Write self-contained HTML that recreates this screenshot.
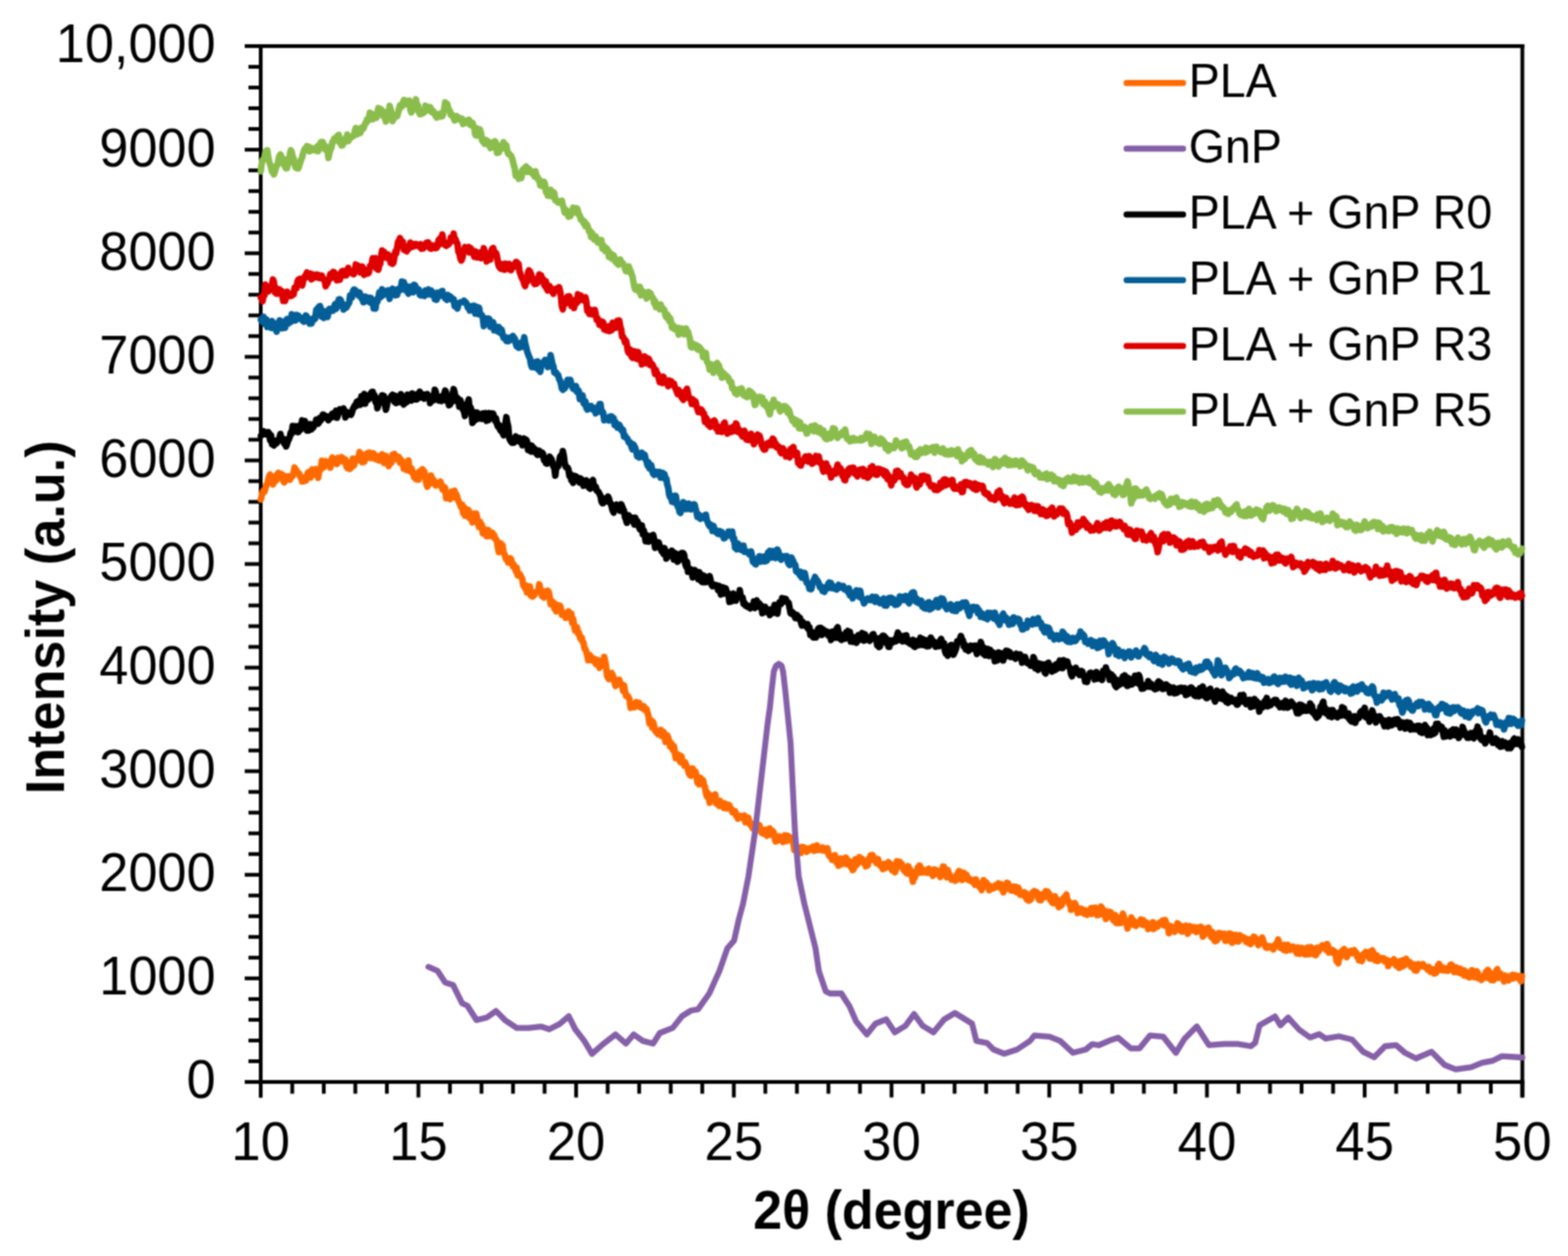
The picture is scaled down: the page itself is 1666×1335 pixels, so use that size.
<!DOCTYPE html>
<html><head><meta charset="utf-8"><style>
html,body{margin:0;padding:0;background:#fff;}
svg{display:block;}
</style></head><body>
<svg width="1666" height="1335" viewBox="0 0 1666 1335"><defs><filter id="bl" x="0" y="0" width="100%" height="100%" color-interpolation-filters="sRGB"><feConvolveMatrix order="3" kernelMatrix="1 2 1 2 4 2 1 2 1" divisor="16" edgeMode="duplicate"/></filter></defs><g filter="url(#bl)"><rect width="100%" height="100%" fill="#fff"/><g fill="#000"><rect x="275.0" y="47" width="4" height="1119.5"/><rect x="1615.5" y="47" width="4" height="1119.5"/><rect x="260" y="47.0" width="1359.5" height="4"/><rect x="260" y="1148.0" width="1359.5" height="4"/><rect x="260" y="1148.00" width="17.0" height="4"/><rect x="264" y="1125.98" width="13.0" height="4"/><rect x="264" y="1103.96" width="13.0" height="4"/><rect x="264" y="1081.94" width="13.0" height="4"/><rect x="264" y="1059.92" width="13.0" height="4"/><rect x="260" y="1037.90" width="17.0" height="4"/><rect x="264" y="1015.88" width="13.0" height="4"/><rect x="264" y="993.86" width="13.0" height="4"/><rect x="264" y="971.84" width="13.0" height="4"/><rect x="264" y="949.82" width="13.0" height="4"/><rect x="260" y="927.80" width="17.0" height="4"/><rect x="264" y="905.78" width="13.0" height="4"/><rect x="264" y="883.76" width="13.0" height="4"/><rect x="264" y="861.74" width="13.0" height="4"/><rect x="264" y="839.72" width="13.0" height="4"/><rect x="260" y="817.70" width="17.0" height="4"/><rect x="264" y="795.68" width="13.0" height="4"/><rect x="264" y="773.66" width="13.0" height="4"/><rect x="264" y="751.64" width="13.0" height="4"/><rect x="264" y="729.62" width="13.0" height="4"/><rect x="260" y="707.60" width="17.0" height="4"/><rect x="264" y="685.58" width="13.0" height="4"/><rect x="264" y="663.56" width="13.0" height="4"/><rect x="264" y="641.54" width="13.0" height="4"/><rect x="264" y="619.52" width="13.0" height="4"/><rect x="260" y="597.50" width="17.0" height="4"/><rect x="264" y="575.48" width="13.0" height="4"/><rect x="264" y="553.46" width="13.0" height="4"/><rect x="264" y="531.44" width="13.0" height="4"/><rect x="264" y="509.42" width="13.0" height="4"/><rect x="260" y="487.40" width="17.0" height="4"/><rect x="264" y="465.38" width="13.0" height="4"/><rect x="264" y="443.36" width="13.0" height="4"/><rect x="264" y="421.34" width="13.0" height="4"/><rect x="264" y="399.32" width="13.0" height="4"/><rect x="260" y="377.30" width="17.0" height="4"/><rect x="264" y="355.28" width="13.0" height="4"/><rect x="264" y="333.26" width="13.0" height="4"/><rect x="264" y="311.24" width="13.0" height="4"/><rect x="264" y="289.22" width="13.0" height="4"/><rect x="260" y="267.20" width="17.0" height="4"/><rect x="264" y="245.18" width="13.0" height="4"/><rect x="264" y="223.16" width="13.0" height="4"/><rect x="264" y="201.14" width="13.0" height="4"/><rect x="264" y="179.12" width="13.0" height="4"/><rect x="260" y="157.10" width="17.0" height="4"/><rect x="264" y="135.08" width="13.0" height="4"/><rect x="264" y="113.06" width="13.0" height="4"/><rect x="264" y="91.04" width="13.0" height="4"/><rect x="264" y="69.02" width="13.0" height="4"/><rect x="260" y="47.00" width="17.0" height="4"/><rect x="275.00" y="1150.0" width="4" height="16.5"/><rect x="308.51" y="1150.0" width="4" height="12.5"/><rect x="342.02" y="1150.0" width="4" height="12.5"/><rect x="375.54" y="1150.0" width="4" height="12.5"/><rect x="409.05" y="1150.0" width="4" height="12.5"/><rect x="442.56" y="1150.0" width="4" height="16.5"/><rect x="476.07" y="1150.0" width="4" height="12.5"/><rect x="509.59" y="1150.0" width="4" height="12.5"/><rect x="543.10" y="1150.0" width="4" height="12.5"/><rect x="576.61" y="1150.0" width="4" height="12.5"/><rect x="610.12" y="1150.0" width="4" height="16.5"/><rect x="643.64" y="1150.0" width="4" height="12.5"/><rect x="677.15" y="1150.0" width="4" height="12.5"/><rect x="710.66" y="1150.0" width="4" height="12.5"/><rect x="744.17" y="1150.0" width="4" height="12.5"/><rect x="777.69" y="1150.0" width="4" height="16.5"/><rect x="811.20" y="1150.0" width="4" height="12.5"/><rect x="844.71" y="1150.0" width="4" height="12.5"/><rect x="878.23" y="1150.0" width="4" height="12.5"/><rect x="911.74" y="1150.0" width="4" height="12.5"/><rect x="945.25" y="1150.0" width="4" height="16.5"/><rect x="978.76" y="1150.0" width="4" height="12.5"/><rect x="1012.27" y="1150.0" width="4" height="12.5"/><rect x="1045.79" y="1150.0" width="4" height="12.5"/><rect x="1079.30" y="1150.0" width="4" height="12.5"/><rect x="1112.81" y="1150.0" width="4" height="16.5"/><rect x="1146.33" y="1150.0" width="4" height="12.5"/><rect x="1179.84" y="1150.0" width="4" height="12.5"/><rect x="1213.35" y="1150.0" width="4" height="12.5"/><rect x="1246.86" y="1150.0" width="4" height="12.5"/><rect x="1280.38" y="1150.0" width="4" height="16.5"/><rect x="1313.89" y="1150.0" width="4" height="12.5"/><rect x="1347.40" y="1150.0" width="4" height="12.5"/><rect x="1380.91" y="1150.0" width="4" height="12.5"/><rect x="1414.42" y="1150.0" width="4" height="12.5"/><rect x="1447.94" y="1150.0" width="4" height="16.5"/><rect x="1481.45" y="1150.0" width="4" height="12.5"/><rect x="1514.96" y="1150.0" width="4" height="12.5"/><rect x="1548.47" y="1150.0" width="4" height="12.5"/><rect x="1581.99" y="1150.0" width="4" height="12.5"/><rect x="1615.50" y="1150.0" width="4" height="16.5"/></g><defs><clipPath id="c"><rect x="273.5" y="40" width="1347.5" height="1110"/></clipPath></defs><g clip-path="url(#c)" fill="none" stroke-linejoin="round" stroke-linecap="round"><path d="M277.0,531.0 L278.0,527.3 L279.0,523.2 L280.0,521.5 L281.0,522.6 L282.0,519.1 L283.0,515.2 L284.0,514.6 L285.0,509.9 L286.0,506.2 L287.0,504.5 L288.0,507.8 L289.0,511.4 L290.0,514.8 L291.0,512.8 L292.0,508.3 L293.0,511.3 L294.0,504.8 L295.0,507.5 L296.0,502.6 L297.0,505.5 L298.0,508.1 L299.0,503.8 L300.0,504.7 L301.0,511.2 L302.0,512.6 L303.0,511.0 L304.0,506.3 L305.0,508.6 L306.0,507.6 L307.0,506.5 L308.0,510.0 L309.0,506.5 L310.0,507.0 L311.0,505.9 L312.0,501.8 L313.0,496.9 L314.0,499.0 L315.0,500.0 L316.0,502.0 L317.0,503.8 L318.0,503.6 L319.0,506.7 L320.0,507.8 L321.0,511.7 L322.0,511.2 L323.0,511.5 L324.0,510.5 L325.0,510.6 L326.0,505.2 L327.0,502.7 L328.0,501.8 L329.0,506.0 L330.0,507.5 L331.0,503.5 L332.0,498.8 L333.0,504.4 L334.0,500.2 L335.0,501.3 L336.0,498.6 L337.0,504.4 L338.0,507.9 L339.0,502.0 L340.0,498.6 L341.0,498.6 L342.0,489.7 L343.0,493.4 L344.0,496.7 L345.0,493.5 L346.0,490.0 L347.0,493.7 L348.0,493.8 L349.0,491.0 L350.0,491.9 L351.0,497.0 L352.0,489.7 L353.0,486.4 L354.0,492.2 L355.0,489.6 L356.0,488.4 L357.0,490.1 L358.0,493.2 L359.0,486.8 L360.0,490.5 L361.0,490.1 L362.0,490.2 L363.0,485.8 L364.0,489.9 L365.0,487.2 L366.0,491.2 L367.0,488.6 L368.0,495.5 L369.0,497.4 L370.0,493.3 L371.0,492.0 L372.0,498.4 L373.0,495.4 L374.0,496.0 L375.0,487.4 L376.0,494.9 L377.0,491.4 L378.0,487.6 L379.0,487.2 L380.0,488.9 L381.0,487.7 L382.0,480.5 L383.0,485.8 L384.0,482.6 L385.0,491.3 L386.0,487.2 L387.0,490.9 L388.0,488.2 L389.0,486.2 L390.0,482.1 L391.0,484.7 L392.0,481.1 L393.0,481.3 L394.0,486.9 L395.0,482.9 L396.0,486.7 L397.0,481.9 L398.0,486.5 L399.0,487.9 L400.0,485.4 L401.0,484.9 L402.0,489.1 L403.0,489.5 L404.0,485.2 L405.0,485.2 L406.0,483.0 L407.0,488.6 L408.0,491.9 L409.0,485.9 L410.0,484.6 L411.0,491.6 L412.0,493.4 L413.0,495.4 L414.0,492.7 L415.0,488.6 L416.0,491.9 L417.0,483.5 L418.0,487.4 L419.0,482.5 L420.0,486.2 L421.0,487.8 L422.0,487.5 L423.0,485.5 L424.0,486.1 L425.0,491.7 L426.0,488.3 L427.0,491.9 L428.0,490.9 L429.0,498.2 L430.0,497.1 L431.0,497.7 L432.0,499.7 L433.0,499.6 L434.0,489.6 L435.0,498.6 L436.0,501.0 L437.0,497.7 L438.0,500.1 L439.0,503.1 L440.0,507.4 L441.0,503.5 L442.0,509.1 L443.0,508.2 L444.0,502.7 L445.0,509.9 L446.0,500.9 L447.0,501.3 L448.0,505.4 L449.0,498.8 L450.0,501.0 L451.0,501.5 L452.0,507.5 L453.0,513.9 L454.0,517.3 L455.0,508.1 L456.0,507.4 L457.0,514.0 L458.0,505.4 L459.0,509.2 L460.0,509.3 L461.0,510.6 L462.0,511.6 L463.0,516.0 L464.0,515.5 L465.0,513.5 L466.0,513.6 L467.0,513.2 L468.0,511.9 L469.0,515.5 L470.0,520.1 L471.0,519.1 L472.0,517.6 L473.0,518.5 L474.0,529.5 L475.0,527.3 L476.0,526.2 L477.0,529.8 L478.0,530.5 L479.0,528.6 L480.0,522.6 L481.0,523.7 L482.0,522.7 L483.0,521.6 L484.0,529.1 L485.0,525.7 L486.0,529.1 L487.0,531.9 L488.0,534.5 L489.0,536.6 L490.0,539.2 L491.0,536.3 L492.0,545.0 L493.0,539.0 L494.0,548.1 L495.0,548.0 L496.0,548.6 L497.0,541.6 L498.0,542.5 L499.0,550.5 L500.0,548.3 L501.0,548.4 L502.0,555.2 L503.0,545.9 L504.0,550.3 L505.0,549.1 L506.0,545.8 L507.0,550.8 L508.0,556.1 L509.0,560.1 L510.0,554.4 L511.0,560.5 L512.0,557.8 L513.0,566.9 L514.0,562.5 L515.0,562.5 L516.0,566.3 L517.0,570.0 L518.0,565.4 L519.0,563.5 L520.0,569.7 L521.0,569.6 L522.0,569.9 L523.0,566.2 L524.0,568.7 L525.0,568.5 L526.0,572.8 L527.0,572.9 L528.0,575.2 L529.0,582.1 L530.0,586.8 L531.0,582.7 L532.0,577.5 L533.0,582.0 L534.0,579.5 L535.0,587.8 L536.0,588.5 L537.0,592.7 L538.0,594.7 L539.0,594.0 L540.0,598.1 L541.0,598.0 L542.0,593.4 L543.0,594.3 L544.0,598.4 L545.0,602.0 L546.0,600.1 L547.0,603.7 L548.0,607.0 L549.0,603.3 L550.0,611.7 L551.0,611.8 L552.0,610.1 L553.0,611.5 L554.0,613.5 L555.0,615.9 L556.0,622.5 L557.0,622.8 L558.0,625.6 L559.0,622.4 L560.0,629.8 L561.0,624.6 L562.0,624.9 L563.0,623.4 L564.0,632.8 L565.0,629.1 L566.0,634.1 L567.0,632.9 L568.0,632.1 L569.0,629.4 L570.0,629.2 L571.0,628.9 L572.0,627.6 L573.0,621.1 L574.0,625.2 L575.0,627.7 L576.0,633.7 L577.0,633.7 L578.0,635.0 L579.0,633.8 L580.0,628.5 L581.0,632.3 L582.0,627.8 L583.0,629.4 L584.0,633.7 L585.0,642.2 L586.0,641.6 L587.0,639.5 L588.0,640.5 L589.0,646.8 L590.0,646.8 L591.0,649.8 L592.0,642.9 L593.0,644.8 L594.0,647.6 L595.0,643.9 L596.0,646.9 L597.0,653.5 L598.0,653.3 L599.0,651.8 L600.0,653.3 L601.0,656.7 L602.0,655.7 L603.0,650.8 L604.0,649.9 L605.0,656.4 L606.0,653.6 L607.0,652.2 L608.0,662.2 L609.0,657.9 L610.0,664.7 L611.0,670.0 L612.0,669.6 L613.0,666.5 L614.0,673.0 L615.0,672.3 L616.0,676.7 L617.0,679.4 L618.0,677.5 L619.0,682.1 L620.0,683.2 L621.0,689.3 L622.0,690.2 L623.0,692.8 L624.0,696.8 L625.0,701.7 L626.0,697.2 L627.0,696.7 L628.0,701.7 L629.0,702.0 L630.0,699.7 L631.0,700.3 L632.0,700.5 L633.0,705.8 L634.0,706.0 L635.0,705.4 L636.0,701.8 L637.0,709.9 L638.0,707.0 L639.0,703.0 L640.0,702.4 L641.0,705.3 L642.0,698.3 L643.0,703.2 L644.0,708.7 L645.0,717.9 L646.0,720.5 L647.0,721.7 L648.0,717.0 L649.0,716.4 L650.0,715.5 L651.0,717.7 L652.0,720.4 L653.0,725.4 L654.0,729.2 L655.0,724.0 L656.0,725.9 L657.0,722.8 L658.0,722.6 L659.0,725.8 L660.0,727.9 L661.0,728.9 L662.0,734.1 L663.0,728.4 L664.0,734.4 L665.0,739.4 L666.0,738.7 L667.0,740.3 L668.0,741.3 L669.0,744.5 L670.0,752.2 L671.0,751.7 L672.0,749.6 L673.0,751.5 L674.0,751.7 L675.0,750.7 L676.0,746.3 L677.0,746.9 L678.0,749.7 L679.0,747.0 L680.0,751.6 L681.0,750.7 L682.0,751.2 L683.0,753.0 L684.0,750.7 L685.0,753.7 L686.0,755.0 L687.0,753.8 L688.0,757.7 L689.0,760.9 L690.0,768.8 L691.0,767.4 L692.0,765.7 L693.0,773.2 L694.0,767.5 L695.0,772.0 L696.0,776.2 L697.0,778.0 L698.0,777.8 L699.0,780.3 L700.0,777.0 L701.0,778.5 L702.0,775.8 L703.0,782.1 L704.0,781.7 L705.0,778.0 L706.0,780.3 L707.0,788.6 L708.0,782.6 L709.0,781.6 L710.0,784.4 L711.0,787.8 L712.0,793.3 L713.0,789.6 L714.0,793.9 L715.0,797.3 L716.0,792.9 L717.0,800.0 L718.0,805.8 L719.0,802.5 L720.0,803.1 L721.0,802.1 L722.0,808.2 L723.0,810.0 L724.0,803.8 L725.0,809.4 L726.0,809.8 L727.0,813.7 L728.0,810.4 L729.0,813.4 L730.0,815.2 L731.0,818.2 L732.0,822.1 L733.0,823.9 L734.0,824.4 L735.0,822.7 L736.0,816.8 L737.0,818.9 L738.0,820.8 L739.0,820.3 L740.0,825.2 L741.0,831.7 L742.0,827.5 L743.0,833.7 L744.0,826.6 L745.0,828.6 L746.0,832.9 L747.0,829.3 L748.0,834.9 L749.0,836.3 L750.0,842.9 L751.0,846.4 L752.0,842.7 L753.0,847.1 L754.0,853.2 L755.0,849.4 L756.0,845.8 L757.0,850.0 L758.0,845.6 L759.0,847.8 L760.0,844.4 L761.0,854.0 L762.0,851.7 L763.0,855.1 L764.0,856.5 L765.0,851.3 L766.0,854.7 L767.0,854.3 L768.0,857.6 L769.0,858.8 L770.0,853.9 L771.0,854.9 L772.0,859.3 L773.0,857.3 L774.0,855.4 L775.0,856.0 L776.0,859.3 L777.0,859.8 L778.0,863.1 L779.0,861.4 L780.0,864.2 L781.0,862.2 L782.0,866.7 L783.0,866.1 L784.0,870.3 L785.0,867.0 L786.0,867.1 L787.0,868.3 L788.0,869.1 L789.0,867.6 L790.0,869.6 L791.0,866.8 L792.0,873.9 L793.0,873.2 L794.0,872.7 L795.0,869.2 L796.0,872.3 L797.0,876.3 L798.0,876.7 L799.0,879.0 L800.0,880.5 L801.0,876.1 L802.0,878.6 L803.0,877.5 L804.0,876.0 L805.0,876.5 L806.0,877.9 L807.0,877.4 L808.0,882.5 L809.0,885.0 L810.0,884.8 L811.0,886.0 L812.0,882.1 L813.0,881.9 L814.0,885.3 L815.0,888.3 L816.0,884.5 L817.0,881.0 L818.0,880.7 L819.0,883.8 L820.0,887.2 L821.0,883.1 L822.0,885.0 L823.0,890.4 L824.0,894.4 L825.0,890.0 L826.0,893.7 L827.0,893.1 L828.0,888.9 L829.0,891.7 L830.0,890.2 L831.0,890.8 L832.0,894.9 L833.0,893.7 L834.0,887.9 L835.0,888.2 L836.0,893.9 L837.0,888.4 L838.0,890.2 L839.0,891.0 L840.0,890.2 L841.0,891.2 L842.0,893.4 L843.0,897.2 L844.0,903.4 L845.0,902.4 L846.0,900.4 L847.0,904.5 L848.0,901.2 L849.0,903.6 L850.0,902.1 L851.0,906.5 L852.0,900.2 L853.0,903.1 L854.0,900.5 L855.0,903.2 L856.0,902.1 L857.0,905.3 L858.0,902.1 L859.0,903.9 L860.0,902.8 L861.0,901.3 L862.0,901.0 L863.0,901.1 L864.0,899.9 L865.0,904.4 L866.0,902.1 L867.0,902.2 L868.0,898.6 L869.0,903.5 L870.0,901.3 L871.0,901.4 L872.0,903.0 L873.0,903.7 L874.0,900.8 L875.0,901.5 L876.0,904.3 L877.0,904.3 L878.0,904.2 L879.0,901.6 L880.0,906.2 L881.0,909.8 L882.0,910.0 L883.0,910.6 L884.0,913.8 L885.0,913.3 L886.0,913.5 L887.0,909.0 L888.0,912.7 L889.0,917.3 L890.0,913.9 L891.0,920.1 L892.0,912.8 L893.0,918.8 L894.0,912.5 L895.0,918.4 L896.0,917.9 L897.0,912.7 L898.0,917.0 L899.0,911.6 L900.0,918.6 L901.0,915.5 L902.0,917.1 L903.0,915.6 L904.0,921.3 L905.0,919.8 L906.0,924.7 L907.0,923.9 L908.0,920.3 L909.0,913.2 L910.0,919.5 L911.0,918.1 L912.0,914.6 L913.0,911.1 L914.0,911.6 L915.0,915.5 L916.0,912.8 L917.0,916.6 L918.0,916.1 L919.0,915.4 L920.0,920.8 L921.0,917.0 L922.0,919.7 L923.0,913.0 L924.0,914.8 L925.0,909.2 L926.0,913.4 L927.0,908.8 L928.0,910.7 L929.0,912.9 L930.0,914.7 L931.0,917.1 L932.0,914.9 L933.0,913.3 L934.0,918.7 L935.0,919.7 L936.0,919.0 L937.0,921.9 L938.0,923.7 L939.0,918.5 L940.0,923.2 L941.0,918.0 L942.0,920.6 L943.0,918.5 L944.0,916.5 L945.0,921.7 L946.0,922.6 L947.0,918.7 L948.0,925.0 L949.0,921.7 L950.0,925.8 L951.0,927.1 L952.0,923.4 L953.0,915.5 L954.0,917.1 L955.0,916.5 L956.0,916.1 L957.0,920.9 L958.0,918.0 L959.0,922.6 L960.0,924.4 L961.0,925.8 L962.0,924.1 L963.0,928.0 L964.0,928.4 L965.0,920.6 L966.0,923.2 L967.0,924.6 L968.0,926.0 L969.0,932.0 L970.0,937.1 L971.0,927.0 L972.0,932.9 L973.0,926.7 L974.0,928.9 L975.0,922.3 L976.0,926.2 L977.0,920.0 L978.0,921.2 L979.0,927.4 L980.0,925.3 L981.0,927.1 L982.0,925.0 L983.0,925.0 L984.0,925.2 L985.0,927.7 L986.0,927.6 L987.0,923.4 L988.0,925.9 L989.0,927.1 L990.0,927.7 L991.0,930.8 L992.0,930.1 L993.0,924.1 L994.0,926.1 L995.0,925.0 L996.0,925.5 L997.0,927.1 L998.0,929.3 L999.0,932.2 L1000.0,929.2 L1001.0,927.9 L1002.0,921.1 L1003.0,921.3 L1004.0,929.8 L1005.0,929.9 L1006.0,932.4 L1007.0,924.6 L1008.0,928.2 L1009.0,930.6 L1010.0,931.8 L1011.0,935.0 L1012.0,933.3 L1013.0,933.6 L1014.0,931.9 L1015.0,936.2 L1016.0,935.2 L1017.0,931.9 L1018.0,927.2 L1019.0,925.8 L1020.0,926.3 L1021.0,932.4 L1022.0,935.2 L1023.0,935.0 L1024.0,927.8 L1025.0,931.0 L1026.0,930.0 L1027.0,929.8 L1028.0,933.5 L1029.0,935.3 L1030.0,934.0 L1031.0,935.2 L1032.0,936.4 L1033.0,937.5 L1034.0,937.8 L1035.0,935.5 L1036.0,940.4 L1037.0,934.8 L1038.0,939.6 L1039.0,938.6 L1040.0,941.2 L1041.0,943.1 L1042.0,942.8 L1043.0,946.1 L1044.0,938.5 L1045.0,935.5 L1046.0,942.3 L1047.0,937.5 L1048.0,937.9 L1049.0,939.8 L1050.0,942.1 L1051.0,946.3 L1052.0,944.6 L1053.0,942.0 L1054.0,944.6 L1055.0,943.7 L1056.0,944.1 L1057.0,943.3 L1058.0,941.0 L1059.0,942.2 L1060.0,941.4 L1061.0,938.9 L1062.0,943.5 L1063.0,940.7 L1064.0,940.0 L1065.0,944.8 L1066.0,948.4 L1067.0,946.4 L1068.0,943.7 L1069.0,943.2 L1070.0,938.4 L1071.0,938.8 L1072.0,941.8 L1073.0,944.7 L1074.0,946.2 L1075.0,946.7 L1076.0,943.3 L1077.0,942.4 L1078.0,942.8 L1079.0,942.6 L1080.0,948.2 L1081.0,946.2 L1082.0,943.6 L1083.0,946.3 L1084.0,951.0 L1085.0,949.2 L1086.0,949.7 L1087.0,949.2 L1088.0,948.5 L1089.0,953.1 L1090.0,949.3 L1091.0,956.1 L1092.0,950.6 L1093.0,957.3 L1094.0,954.9 L1095.0,956.2 L1096.0,954.2 L1097.0,948.9 L1098.0,951.2 L1099.0,947.1 L1100.0,948.5 L1101.0,949.7 L1102.0,948.8 L1103.0,952.8 L1104.0,956.4 L1105.0,951.8 L1106.0,956.9 L1107.0,950.8 L1108.0,954.3 L1109.0,950.4 L1110.0,951.3 L1111.0,947.2 L1112.0,953.3 L1113.0,947.6 L1114.0,949.6 L1115.0,950.2 L1116.0,956.8 L1117.0,957.0 L1118.0,959.3 L1119.0,959.9 L1120.0,955.0 L1121.0,952.7 L1122.0,958.8 L1123.0,955.8 L1124.0,961.5 L1125.0,964.2 L1126.0,962.7 L1127.0,957.0 L1128.0,962.3 L1129.0,959.2 L1130.0,954.7 L1131.0,953.4 L1132.0,955.0 L1133.0,950.7 L1134.0,956.5 L1135.0,957.4 L1136.0,960.9 L1137.0,959.7 L1138.0,967.0 L1139.0,960.4 L1140.0,965.7 L1141.0,962.0 L1142.0,960.0 L1143.0,962.3 L1144.0,964.3 L1145.0,970.4 L1146.0,968.3 L1147.0,968.7 L1148.0,969.3 L1149.0,965.8 L1150.0,968.5 L1151.0,968.9 L1152.0,971.2 L1153.0,967.6 L1154.0,970.8 L1155.0,972.2 L1156.0,970.9 L1157.0,968.3 L1158.0,967.5 L1159.0,965.6 L1160.0,971.5 L1161.0,965.0 L1162.0,968.3 L1163.0,967.9 L1164.0,964.9 L1165.0,966.9 L1166.0,972.8 L1167.0,969.6 L1168.0,972.2 L1169.0,971.4 L1170.0,963.6 L1171.0,970.3 L1172.0,966.4 L1173.0,971.2 L1174.0,973.0 L1175.0,976.8 L1176.0,973.0 L1177.0,968.9 L1178.0,971.0 L1179.0,971.7 L1180.0,969.4 L1181.0,971.3 L1182.0,976.3 L1183.0,978.3 L1184.0,977.6 L1185.0,972.6 L1186.0,980.9 L1187.0,977.5 L1188.0,981.1 L1189.0,975.7 L1190.0,975.7 L1191.0,981.0 L1192.0,974.5 L1193.0,971.2 L1194.0,973.9 L1195.0,980.3 L1196.0,981.2 L1197.0,979.6 L1198.0,986.9 L1199.0,983.6 L1200.0,982.3 L1201.0,978.9 L1202.0,975.1 L1203.0,980.5 L1204.0,977.9 L1205.0,983.0 L1206.0,980.8 L1207.0,984.1 L1208.0,980.6 L1209.0,980.3 L1210.0,981.9 L1211.0,979.2 L1212.0,977.4 L1213.0,980.9 L1214.0,982.9 L1215.0,978.1 L1216.0,983.3 L1217.0,982.8 L1218.0,982.8 L1219.0,981.0 L1220.0,987.4 L1221.0,986.9 L1222.0,986.4 L1223.0,982.0 L1224.0,985.5 L1225.0,980.2 L1226.0,987.4 L1227.0,982.5 L1228.0,982.6 L1229.0,984.1 L1230.0,984.7 L1231.0,982.9 L1232.0,980.7 L1233.0,980.6 L1234.0,981.1 L1235.0,978.7 L1236.0,980.1 L1237.0,983.8 L1238.0,977.9 L1239.0,980.8 L1240.0,983.8 L1241.0,984.5 L1242.0,991.9 L1243.0,985.1 L1244.0,984.4 L1245.0,985.8 L1246.0,987.0 L1247.0,989.2 L1248.0,990.2 L1249.0,988.4 L1250.0,985.9 L1251.0,981.4 L1252.0,982.0 L1253.0,987.0 L1254.0,988.7 L1255.0,984.1 L1256.0,990.2 L1257.0,986.7 L1258.0,987.0 L1259.0,988.0 L1260.0,983.9 L1261.0,985.2 L1262.0,992.4 L1263.0,986.3 L1264.0,984.4 L1265.0,985.8 L1266.0,989.2 L1267.0,985.6 L1268.0,985.4 L1269.0,986.7 L1270.0,989.2 L1271.0,990.5 L1272.0,985.8 L1273.0,989.8 L1274.0,989.8 L1275.0,990.0 L1276.0,985.1 L1277.0,988.8 L1278.0,995.5 L1279.0,994.3 L1280.0,987.3 L1281.0,989.3 L1282.0,987.9 L1283.0,991.7 L1284.0,986.0 L1285.0,988.9 L1286.0,993.1 L1287.0,996.0 L1288.0,990.4 L1289.0,996.9 L1290.0,999.2 L1291.0,1000.3 L1292.0,995.6 L1293.0,999.6 L1294.0,992.2 L1295.0,991.7 L1296.0,992.0 L1297.0,996.1 L1298.0,992.4 L1299.0,993.9 L1300.0,993.6 L1301.0,992.7 L1302.0,1000.1 L1303.0,994.4 L1304.0,999.4 L1305.0,996.9 L1306.0,992.3 L1307.0,999.4 L1308.0,992.6 L1309.0,1001.9 L1310.0,994.9 L1311.0,996.4 L1312.0,998.6 L1313.0,993.8 L1314.0,1000.5 L1315.0,994.6 L1316.0,1000.8 L1317.0,994.0 L1318.0,998.1 L1319.0,995.4 L1320.0,996.1 L1321.0,997.8 L1322.0,996.8 L1323.0,997.9 L1324.0,1001.0 L1325.0,998.1 L1326.0,998.9 L1327.0,1002.6 L1328.0,998.6 L1329.0,1003.4 L1330.0,998.3 L1331.0,999.2 L1332.0,995.7 L1333.0,996.1 L1334.0,997.2 L1335.0,1001.7 L1336.0,1002.1 L1337.0,1004.5 L1338.0,1000.1 L1339.0,1002.3 L1340.0,999.0 L1341.0,996.6 L1342.0,999.4 L1343.0,1002.9 L1344.0,1004.9 L1345.0,1007.2 L1346.0,1007.5 L1347.0,1005.5 L1348.0,1005.8 L1349.0,1005.7 L1350.0,1005.9 L1351.0,1007.6 L1352.0,1006.7 L1353.0,1009.1 L1354.0,1005.6 L1355.0,1003.9 L1356.0,1005.1 L1357.0,1001.9 L1358.0,998.7 L1359.0,1001.8 L1360.0,1006.7 L1361.0,1007.8 L1362.0,1007.6 L1363.0,1007.6 L1364.0,1009.6 L1365.0,1004.4 L1366.0,1007.4 L1367.0,1010.5 L1368.0,1004.3 L1369.0,1005.5 L1370.0,1007.1 L1371.0,1009.5 L1372.0,1008.0 L1373.0,1007.9 L1374.0,1006.2 L1375.0,1007.6 L1376.0,1010.3 L1377.0,1008.8 L1378.0,1013.4 L1379.0,1007.0 L1380.0,1013.5 L1381.0,1013.7 L1382.0,1010.1 L1383.0,1007.6 L1384.0,1010.3 L1385.0,1012.4 L1386.0,1014.1 L1387.0,1014.5 L1388.0,1008.5 L1389.0,1007.2 L1390.0,1007.1 L1391.0,1014.3 L1392.0,1011.2 L1393.0,1006.7 L1394.0,1011.3 L1395.0,1014.0 L1396.0,1011.4 L1397.0,1008.6 L1398.0,1015.3 L1399.0,1012.3 L1400.0,1007.2 L1401.0,1011.4 L1402.0,1008.5 L1403.0,1008.4 L1404.0,1006.0 L1405.0,1004.8 L1406.0,1005.2 L1407.0,1006.2 L1408.0,1005.7 L1409.0,1009.5 L1410.0,1003.5 L1411.0,1005.3 L1412.0,1012.4 L1413.0,1010.5 L1414.0,1011.4 L1415.0,1012.3 L1416.0,1009.8 L1417.0,1011.9 L1418.0,1011.1 L1419.0,1012.4 L1420.0,1021.3 L1421.0,1021.0 L1422.0,1023.9 L1423.0,1014.3 L1424.0,1017.6 L1425.0,1011.6 L1426.0,1010.6 L1427.0,1013.2 L1428.0,1008.7 L1429.0,1012.6 L1430.0,1015.1 L1431.0,1017.3 L1432.0,1013.6 L1433.0,1011.4 L1434.0,1013.2 L1435.0,1013.1 L1436.0,1010.6 L1437.0,1013.1 L1438.0,1011.3 L1439.0,1010.0 L1440.0,1013.5 L1441.0,1012.6 L1442.0,1017.0 L1443.0,1017.3 L1444.0,1020.7 L1445.0,1019.8 L1446.0,1020.1 L1447.0,1021.5 L1448.0,1014.7 L1449.0,1014.9 L1450.0,1013.1 L1451.0,1012.0 L1452.0,1015.5 L1453.0,1015.5 L1454.0,1012.3 L1455.0,1018.7 L1456.0,1019.0 L1457.0,1011.0 L1458.0,1010.2 L1459.0,1011.8 L1460.0,1018.6 L1461.0,1020.7 L1462.0,1015.2 L1463.0,1015.8 L1464.0,1021.4 L1465.0,1020.8 L1466.0,1019.3 L1467.0,1018.5 L1468.0,1019.5 L1469.0,1018.6 L1470.0,1018.6 L1471.0,1021.6 L1472.0,1019.8 L1473.0,1020.4 L1474.0,1020.9 L1475.0,1026.8 L1476.0,1021.4 L1477.0,1024.2 L1478.0,1023.5 L1479.0,1022.4 L1480.0,1022.9 L1481.0,1019.6 L1482.0,1020.9 L1483.0,1025.3 L1484.0,1026.9 L1485.0,1022.9 L1486.0,1023.1 L1487.0,1028.8 L1488.0,1021.4 L1489.0,1026.8 L1490.0,1027.0 L1491.0,1020.6 L1492.0,1026.2 L1493.0,1020.3 L1494.0,1019.2 L1495.0,1021.3 L1496.0,1021.8 L1497.0,1023.9 L1498.0,1022.7 L1499.0,1027.3 L1500.0,1027.9 L1501.0,1024.9 L1502.0,1027.2 L1503.0,1031.2 L1504.0,1025.4 L1505.0,1031.7 L1506.0,1029.7 L1507.0,1024.8 L1508.0,1025.5 L1509.0,1025.2 L1510.0,1026.7 L1511.0,1026.0 L1512.0,1025.0 L1513.0,1027.6 L1514.0,1027.9 L1515.0,1028.2 L1516.0,1028.1 L1517.0,1030.6 L1518.0,1027.8 L1519.0,1029.1 L1520.0,1032.9 L1521.0,1030.5 L1522.0,1032.6 L1523.0,1030.4 L1524.0,1034.6 L1525.0,1034.3 L1526.0,1034.0 L1527.0,1030.6 L1528.0,1025.8 L1529.0,1024.7 L1530.0,1030.1 L1531.0,1030.8 L1532.0,1027.8 L1533.0,1031.1 L1534.0,1031.4 L1535.0,1031.2 L1536.0,1029.4 L1537.0,1031.4 L1538.0,1031.9 L1539.0,1031.1 L1540.0,1030.5 L1541.0,1025.5 L1542.0,1025.2 L1543.0,1026.2 L1544.0,1030.1 L1545.0,1033.2 L1546.0,1032.4 L1547.0,1028.2 L1548.0,1031.4 L1549.0,1033.4 L1550.0,1029.8 L1551.0,1029.6 L1552.0,1034.4 L1553.0,1031.5 L1554.0,1035.2 L1555.0,1031.2 L1556.0,1037.0 L1557.0,1032.5 L1558.0,1033.5 L1559.0,1034.9 L1560.0,1038.1 L1561.0,1038.8 L1562.0,1038.5 L1563.0,1036.9 L1564.0,1031.3 L1565.0,1032.0 L1566.0,1034.6 L1567.0,1038.7 L1568.0,1036.8 L1569.0,1032.4 L1570.0,1033.9 L1571.0,1039.8 L1572.0,1036.8 L1573.0,1040.7 L1574.0,1041.5 L1575.0,1040.4 L1576.0,1038.7 L1577.0,1038.5 L1578.0,1035.4 L1579.0,1032.8 L1580.0,1039.2 L1581.0,1031.0 L1582.0,1032.6 L1583.0,1037.1 L1584.0,1041.6 L1585.0,1036.9 L1586.0,1038.8 L1587.0,1041.8 L1588.0,1035.3 L1589.0,1033.8 L1590.0,1031.3 L1591.0,1030.3 L1592.0,1039.4 L1593.0,1038.9 L1594.0,1034.6 L1595.0,1036.0 L1596.0,1036.8 L1597.0,1038.8 L1598.0,1043.3 L1599.0,1036.9 L1600.0,1037.5 L1601.0,1038.0 L1602.0,1039.6 L1603.0,1042.0 L1604.0,1038.1 L1605.0,1040.3 L1606.0,1037.0 L1607.0,1036.1 L1608.0,1039.9 L1609.0,1037.6 L1610.0,1036.8 L1611.0,1038.1 L1612.0,1037.8 L1613.0,1039.5 L1614.0,1037.5 L1615.0,1038.5 L1616.0,1043.1 L1617.0,1037.7" stroke="#ff6a00" stroke-width="7.0"/><path d="M455.2,1027.7 L464.8,1031.8 L473.0,1044.3 L481.4,1047.0 L491.0,1066.4 L496.6,1069.0 L506.3,1084.3 L517.3,1081.5 L527.0,1074.6 L536.6,1084.3 L549.0,1092.6 L561.5,1092.6 L575.3,1091.2 L583.6,1094.0 L594.6,1088.4 L604.3,1080.2 L611.2,1094.0 L620.8,1106.4 L629.0,1120.2 L641.5,1109.2 L654.0,1099.5 L665.0,1109.2 L673.3,1099.5 L683.0,1106.4 L694.0,1109.2 L701.0,1098.0 L714.7,1092.6 L724.8,1080.0 L734.4,1074.0 L741.6,1072.8 L753.6,1056.0 L764.4,1032.0 L772.8,1008.0 L780.0,999.6 L784.8,978.0 L789.6,960.0 L795.2,931.5 L802.2,884.3 L807.7,837.2 L813.2,790.0 L815.5,770.0 L818.1,751.2 L820.0,732.5 L822.2,713.7 L824.6,707.5 L827.5,705.5 L830.4,707.5 L832.0,713.7 L834.2,732.5 L836.1,751.2 L838.0,770.0 L840.0,790.0 L842.3,837.2 L844.7,884.3 L848.6,931.5 L854.5,960.0 L860.5,984.0 L866.5,1008.0 L870.0,1032.0 L877.3,1053.6 L882.0,1056.0 L894.0,1056.0 L897.7,1062.0 L902.8,1069.9 L909.7,1085.8 L921.0,1099.5 L930.2,1088.0 L941.6,1083.5 L950.7,1097.2 L962.0,1090.4 L971.2,1077.8 L980.4,1090.4 L991.8,1097.2 L1003.2,1083.5 L1014.6,1076.7 L1032.8,1088.0 L1037.4,1106.4 L1048.8,1108.6 L1055.6,1115.5 L1067.0,1120.0 L1080.7,1115.5 L1094.4,1106.4 L1099.0,1100.6 L1115.0,1101.8 L1126.4,1106.4 L1140.0,1119.0 L1153.7,1115.5 L1160.6,1109.8 L1167.4,1111.0 L1181.0,1105.2 L1188.0,1103.0 L1201.6,1114.3 L1210.8,1114.3 L1222.0,1100.6 L1235.8,1101.8 L1249.4,1119.0 L1258.7,1103.9 L1271.6,1091.0 L1284.5,1110.9 L1300.9,1109.7 L1315.0,1109.7 L1329.0,1112.0 L1333.6,1108.5 L1338.3,1089.8 L1354.7,1080.4 L1360.5,1089.8 L1368.7,1081.6 L1380.4,1094.5 L1392.0,1102.7 L1401.5,1099.2 L1408.5,1103.9 L1422.6,1101.5 L1436.6,1105.0 L1448.3,1117.9 L1460.0,1123.8 L1471.7,1112.0 L1483.4,1110.9 L1492.8,1119.0 L1504.5,1125.0 L1521.0,1117.9 L1535.0,1132.0 L1546.6,1136.6 L1563.0,1134.3 L1574.7,1129.6 L1586.4,1127.3 L1595.8,1122.6 L1617.5,1124.0" stroke="#8560a8" stroke-width="6.3"/><path d="M277.0,463.5 L278.0,462.1 L279.0,461.9 L280.0,458.3 L281.0,461.4 L282.0,460.2 L283.0,460.9 L284.0,462.1 L285.0,459.4 L286.0,460.7 L287.0,467.8 L288.0,462.6 L289.0,472.1 L290.0,472.6 L291.0,473.5 L292.0,468.4 L293.0,470.3 L294.0,470.9 L295.0,467.9 L296.0,467.6 L297.0,464.9 L298.0,461.2 L299.0,468.1 L300.0,466.1 L301.0,468.8 L302.0,471.5 L303.0,467.1 L304.0,474.5 L305.0,471.8 L306.0,468.5 L307.0,466.7 L308.0,464.1 L309.0,459.5 L310.0,460.7 L311.0,452.8 L312.0,456.1 L313.0,456.3 L314.0,453.2 L315.0,454.9 L316.0,459.3 L317.0,459.2 L318.0,452.5 L319.0,457.2 L320.0,454.0 L321.0,446.9 L322.0,448.6 L323.0,448.3 L324.0,447.7 L325.0,453.0 L326.0,457.6 L327.0,452.0 L328.0,457.5 L329.0,456.0 L330.0,450.9 L331.0,456.4 L332.0,452.6 L333.0,454.3 L334.0,450.9 L335.0,450.5 L336.0,446.0 L337.0,449.7 L338.0,450.3 L339.0,449.0 L340.0,444.3 L341.0,446.7 L342.0,443.5 L343.0,440.7 L344.0,440.9 L345.0,441.9 L346.0,443.7 L347.0,442.7 L348.0,445.3 L349.0,446.6 L350.0,444.5 L351.0,442.5 L352.0,443.8 L353.0,439.7 L354.0,440.4 L355.0,442.9 L356.0,439.1 L357.0,436.7 L358.0,444.1 L359.0,441.1 L360.0,436.4 L361.0,435.1 L362.0,435.4 L363.0,437.4 L364.0,435.1 L365.0,434.3 L366.0,437.6 L367.0,443.6 L368.0,437.8 L369.0,441.3 L370.0,439.2 L371.0,439.5 L372.0,438.8 L373.0,440.8 L374.0,438.2 L375.0,434.5 L376.0,432.9 L377.0,431.0 L378.0,431.8 L379.0,427.2 L380.0,426.5 L381.0,430.3 L382.0,429.5 L383.0,430.0 L384.0,421.3 L385.0,422.9 L386.0,421.0 L387.0,418.8 L388.0,429.1 L389.0,423.3 L390.0,423.4 L391.0,425.1 L392.0,420.3 L393.0,422.8 L394.0,418.2 L395.0,416.7 L396.0,416.5 L397.0,423.6 L398.0,420.0 L399.0,427.4 L400.0,426.8 L401.0,433.9 L402.0,430.3 L403.0,426.5 L404.0,423.3 L405.0,425.3 L406.0,420.3 L407.0,420.5 L408.0,421.1 L409.0,429.8 L410.0,435.5 L411.0,431.4 L412.0,424.7 L413.0,424.0 L414.0,423.6 L415.0,423.2 L416.0,420.8 L417.0,419.8 L418.0,424.5 L419.0,427.1 L420.0,420.6 L421.0,428.4 L422.0,423.8 L423.0,426.5 L424.0,427.2 L425.0,427.4 L426.0,418.9 L427.0,422.3 L428.0,425.9 L429.0,429.9 L430.0,422.3 L431.0,423.2 L432.0,427.5 L433.0,419.4 L434.0,420.9 L435.0,420.2 L436.0,423.4 L437.0,425.7 L438.0,418.2 L439.0,423.5 L440.0,423.4 L441.0,424.2 L442.0,421.4 L443.0,424.5 L444.0,418.6 L445.0,418.6 L446.0,416.4 L447.0,422.5 L448.0,420.5 L449.0,419.3 L450.0,419.2 L451.0,423.6 L452.0,421.9 L453.0,422.5 L454.0,418.9 L455.0,422.1 L456.0,421.0 L457.0,428.5 L458.0,424.0 L459.0,425.7 L460.0,425.8 L461.0,422.4 L462.0,414.2 L463.0,416.6 L464.0,423.5 L465.0,422.6 L466.0,425.7 L467.0,425.8 L468.0,421.8 L469.0,426.3 L470.0,424.8 L471.0,419.9 L472.0,419.1 L473.0,415.1 L474.0,417.1 L475.0,426.4 L476.0,422.2 L477.0,430.7 L478.0,430.2 L479.0,425.9 L480.0,427.3 L481.0,419.4 L482.0,413.6 L483.0,417.0 L484.0,424.2 L485.0,426.0 L486.0,422.9 L487.0,425.1 L488.0,432.2 L489.0,425.1 L490.0,428.5 L491.0,429.6 L492.0,435.7 L493.0,437.1 L494.0,442.1 L495.0,437.0 L496.0,431.0 L497.0,428.3 L498.0,424.7 L499.0,435.9 L500.0,433.1 L501.0,436.3 L502.0,449.4 L503.0,441.2 L504.0,447.1 L505.0,438.5 L506.0,440.6 L507.0,438.7 L508.0,445.1 L509.0,443.5 L510.0,444.2 L511.0,444.7 L512.0,445.2 L513.0,439.5 L514.0,441.4 L515.0,441.1 L516.0,439.1 L517.0,447.2 L518.0,446.1 L519.0,446.5 L520.0,439.1 L521.0,441.3 L522.0,439.6 L523.0,444.0 L524.0,439.6 L525.0,444.1 L526.0,447.2 L527.0,444.5 L528.0,450.3 L529.0,453.3 L530.0,451.6 L531.0,456.0 L532.0,457.8 L533.0,456.4 L534.0,459.9 L535.0,462.6 L536.0,452.8 L537.0,450.2 L538.0,443.4 L539.0,449.3 L540.0,453.3 L541.0,465.3 L542.0,467.9 L543.0,469.4 L544.0,470.6 L545.0,467.2 L546.0,470.4 L547.0,465.9 L548.0,463.9 L549.0,468.2 L550.0,466.9 L551.0,468.8 L552.0,465.7 L553.0,469.8 L554.0,467.7 L555.0,473.2 L556.0,472.2 L557.0,466.1 L558.0,472.1 L559.0,467.5 L560.0,469.3 L561.0,478.2 L562.0,477.2 L563.0,478.9 L564.0,479.7 L565.0,473.6 L566.0,479.9 L567.0,476.0 L568.0,478.1 L569.0,477.9 L570.0,482.2 L571.0,483.3 L572.0,479.9 L573.0,479.1 L574.0,482.0 L575.0,483.6 L576.0,481.1 L577.0,482.4 L578.0,488.9 L579.0,488.9 L580.0,492.2 L581.0,492.8 L582.0,492.5 L583.0,487.6 L584.0,485.5 L585.0,486.8 L586.0,488.2 L587.0,492.2 L588.0,495.8 L589.0,497.4 L590.0,505.5 L591.0,496.7 L592.0,495.1 L593.0,495.8 L594.0,491.7 L595.0,485.6 L596.0,484.0 L597.0,488.2 L598.0,479.5 L599.0,484.5 L600.0,492.2 L601.0,496.2 L602.0,497.0 L603.0,496.9 L604.0,499.4 L605.0,505.7 L606.0,503.8 L607.0,510.2 L608.0,509.9 L609.0,513.2 L610.0,505.7 L611.0,507.6 L612.0,506.4 L613.0,510.8 L614.0,510.4 L615.0,508.1 L616.0,512.9 L617.0,508.6 L618.0,510.7 L619.0,510.6 L620.0,516.3 L621.0,513.1 L622.0,512.1 L623.0,510.6 L624.0,514.9 L625.0,517.4 L626.0,518.5 L627.0,519.4 L628.0,517.1 L629.0,511.5 L630.0,510.2 L631.0,517.3 L632.0,518.8 L633.0,517.3 L634.0,521.5 L635.0,522.2 L636.0,522.9 L637.0,525.1 L638.0,527.0 L639.0,532.7 L640.0,534.9 L641.0,534.7 L642.0,530.0 L643.0,531.0 L644.0,532.7 L645.0,530.7 L646.0,527.9 L647.0,529.8 L648.0,534.6 L649.0,535.0 L650.0,538.9 L651.0,542.8 L652.0,544.8 L653.0,539.7 L654.0,537.5 L655.0,536.4 L656.0,537.4 L657.0,540.7 L658.0,537.4 L659.0,542.9 L660.0,536.0 L661.0,538.3 L662.0,541.0 L663.0,542.7 L664.0,549.6 L665.0,552.0 L666.0,555.7 L667.0,552.9 L668.0,547.7 L669.0,552.6 L670.0,552.0 L671.0,551.9 L672.0,550.5 L673.0,555.0 L674.0,557.4 L675.0,550.3 L676.0,556.1 L677.0,553.8 L678.0,555.6 L679.0,560.6 L680.0,562.7 L681.0,561.2 L682.0,558.5 L683.0,568.0 L684.0,563.7 L685.0,568.4 L686.0,575.3 L687.0,570.2 L688.0,569.5 L689.0,575.7 L690.0,575.3 L691.0,569.7 L692.0,570.6 L693.0,569.8 L694.0,568.7 L695.0,573.0 L696.0,582.2 L697.0,575.7 L698.0,579.2 L699.0,578.4 L700.0,576.7 L701.0,581.2 L702.0,583.4 L703.0,585.9 L704.0,585.4 L705.0,588.7 L706.0,582.6 L707.0,586.3 L708.0,593.8 L709.0,586.6 L710.0,589.6 L711.0,591.1 L712.0,588.6 L713.0,590.8 L714.0,585.4 L715.0,587.6 L716.0,594.8 L717.0,587.6 L718.0,595.2 L719.0,588.8 L720.0,597.0 L721.0,594.5 L722.0,594.7 L723.0,589.4 L724.0,587.9 L725.0,594.0 L726.0,587.9 L727.0,590.1 L728.0,598.9 L729.0,602.2 L730.0,597.3 L731.0,607.7 L732.0,605.6 L733.0,606.0 L734.0,605.3 L735.0,608.0 L736.0,613.7 L737.0,607.2 L738.0,605.9 L739.0,606.8 L740.0,607.5 L741.0,610.1 L742.0,615.6 L743.0,608.3 L744.0,610.0 L745.0,617.6 L746.0,618.7 L747.0,618.7 L748.0,611.9 L749.0,613.1 L750.0,618.8 L751.0,615.0 L752.0,617.6 L753.0,614.5 L754.0,612.4 L755.0,616.6 L756.0,621.5 L757.0,623.0 L758.0,622.2 L759.0,621.6 L760.0,622.7 L761.0,622.2 L762.0,623.5 L763.0,627.5 L764.0,622.7 L765.0,627.6 L766.0,631.9 L767.0,630.9 L768.0,624.3 L769.0,631.0 L770.0,629.3 L771.0,625.3 L772.0,628.5 L773.0,630.1 L774.0,631.0 L775.0,639.8 L776.0,634.7 L777.0,639.3 L778.0,632.4 L779.0,630.9 L780.0,638.3 L781.0,637.0 L782.0,638.2 L783.0,634.7 L784.0,632.5 L785.0,634.2 L786.0,627.2 L787.0,633.9 L788.0,635.4 L789.0,635.1 L790.0,641.8 L791.0,640.7 L792.0,643.8 L793.0,643.9 L794.0,644.8 L795.0,643.8 L796.0,644.5 L797.0,646.5 L798.0,644.5 L799.0,644.1 L800.0,644.2 L801.0,639.4 L802.0,646.2 L803.0,639.6 L804.0,638.3 L805.0,641.8 L806.0,644.0 L807.0,641.6 L808.0,645.7 L809.0,643.9 L810.0,651.8 L811.0,646.2 L812.0,645.5 L813.0,645.1 L814.0,647.3 L815.0,650.6 L816.0,648.5 L817.0,649.9 L818.0,653.8 L819.0,647.7 L820.0,649.3 L821.0,651.5 L822.0,649.2 L823.0,643.0 L824.0,651.0 L825.0,647.1 L826.0,652.2 L827.0,644.1 L828.0,640.3 L829.0,641.0 L830.0,641.8 L831.0,635.7 L832.0,638.0 L833.0,637.7 L834.0,636.4 L835.0,636.8 L836.0,639.8 L837.0,639.9 L838.0,640.9 L839.0,646.7 L840.0,651.9 L841.0,652.4 L842.0,650.6 L843.0,651.9 L844.0,654.0 L845.0,657.0 L846.0,653.3 L847.0,653.8 L848.0,657.2 L849.0,658.0 L850.0,656.7 L851.0,661.4 L852.0,664.9 L853.0,661.2 L854.0,663.0 L855.0,663.4 L856.0,664.5 L857.0,666.5 L858.0,663.4 L859.0,668.7 L860.0,666.6 L861.0,674.8 L862.0,671.3 L863.0,672.9 L864.0,677.5 L865.0,672.6 L866.0,672.4 L867.0,677.5 L868.0,674.6 L869.0,669.0 L870.0,667.7 L871.0,670.6 L872.0,667.4 L873.0,674.9 L874.0,668.6 L875.0,669.5 L876.0,670.6 L877.0,671.8 L878.0,671.1 L879.0,674.0 L880.0,675.3 L881.0,674.3 L882.0,672.2 L883.0,680.2 L884.0,677.3 L885.0,671.4 L886.0,674.7 L887.0,676.6 L888.0,677.8 L889.0,668.2 L890.0,666.7 L891.0,672.5 L892.0,673.4 L893.0,679.3 L894.0,680.1 L895.0,675.1 L896.0,675.4 L897.0,676.5 L898.0,678.8 L899.0,672.2 L900.0,673.7 L901.0,670.7 L902.0,675.6 L903.0,671.6 L904.0,681.8 L905.0,679.7 L906.0,682.0 L907.0,677.1 L908.0,678.1 L909.0,679.9 L910.0,683.1 L911.0,678.8 L912.0,675.1 L913.0,680.2 L914.0,675.8 L915.0,675.3 L916.0,673.0 L917.0,674.6 L918.0,680.9 L919.0,674.2 L920.0,678.2 L921.0,679.4 L922.0,677.3 L923.0,680.2 L924.0,681.0 L925.0,680.0 L926.0,678.3 L927.0,674.4 L928.0,674.0 L929.0,678.4 L930.0,678.2 L931.0,678.3 L932.0,685.8 L933.0,680.9 L934.0,687.7 L935.0,687.1 L936.0,677.7 L937.0,682.7 L938.0,675.7 L939.0,675.7 L940.0,677.3 L941.0,677.7 L942.0,683.7 L943.0,682.9 L944.0,687.5 L945.0,687.6 L946.0,680.6 L947.0,683.5 L948.0,683.1 L949.0,680.7 L950.0,681.0 L951.0,679.3 L952.0,681.5 L953.0,676.4 L954.0,672.4 L955.0,674.7 L956.0,678.0 L957.0,680.4 L958.0,678.7 L959.0,681.7 L960.0,676.0 L961.0,679.0 L962.0,677.7 L963.0,675.3 L964.0,682.2 L965.0,680.4 L966.0,683.3 L967.0,684.2 L968.0,684.8 L969.0,683.4 L970.0,680.2 L971.0,686.9 L972.0,687.5 L973.0,684.1 L974.0,684.7 L975.0,681.0 L976.0,685.9 L977.0,683.1 L978.0,677.9 L979.0,683.6 L980.0,685.3 L981.0,679.5 L982.0,685.7 L983.0,682.2 L984.0,680.7 L985.0,686.9 L986.0,684.7 L987.0,686.7 L988.0,683.7 L989.0,677.7 L990.0,679.9 L991.0,684.0 L992.0,681.7 L993.0,683.4 L994.0,687.5 L995.0,683.5 L996.0,683.9 L997.0,684.6 L998.0,686.8 L999.0,680.4 L1000.0,679.2 L1001.0,685.2 L1002.0,683.1 L1003.0,683.6 L1004.0,691.9 L1005.0,694.7 L1006.0,694.4 L1007.0,696.9 L1008.0,694.0 L1009.0,691.6 L1010.0,685.9 L1011.0,685.6 L1012.0,693.7 L1013.0,695.9 L1014.0,694.1 L1015.0,691.5 L1016.0,688.6 L1017.0,681.9 L1018.0,682.3 L1019.0,680.8 L1020.0,678.8 L1021.0,676.0 L1022.0,679.8 L1023.0,680.4 L1024.0,686.9 L1025.0,684.9 L1026.0,690.1 L1027.0,688.3 L1028.0,690.2 L1029.0,691.8 L1030.0,687.4 L1031.0,686.4 L1032.0,689.8 L1033.0,686.7 L1034.0,689.0 L1035.0,686.4 L1036.0,686.3 L1037.0,690.9 L1038.0,695.1 L1039.0,693.4 L1040.0,688.9 L1041.0,686.6 L1042.0,682.3 L1043.0,685.8 L1044.0,687.6 L1045.0,694.9 L1046.0,688.8 L1047.0,696.5 L1048.0,692.2 L1049.0,691.9 L1050.0,690.0 L1051.0,697.3 L1052.0,690.8 L1053.0,695.2 L1054.0,695.3 L1055.0,693.5 L1056.0,694.7 L1057.0,702.8 L1058.0,702.0 L1059.0,700.8 L1060.0,701.7 L1061.0,693.5 L1062.0,698.4 L1063.0,699.1 L1064.0,694.5 L1065.0,696.9 L1066.0,702.0 L1067.0,695.1 L1068.0,698.1 L1069.0,691.7 L1070.0,695.4 L1071.0,692.0 L1072.0,694.4 L1073.0,693.4 L1074.0,698.2 L1075.0,697.6 L1076.0,696.1 L1077.0,698.5 L1078.0,696.7 L1079.0,700.1 L1080.0,694.9 L1081.0,697.4 L1082.0,697.6 L1083.0,697.4 L1084.0,695.8 L1085.0,698.5 L1086.0,704.3 L1087.0,698.7 L1088.0,702.1 L1089.0,698.2 L1090.0,701.0 L1091.0,703.1 L1092.0,705.0 L1093.0,704.7 L1094.0,704.7 L1095.0,707.5 L1096.0,707.3 L1097.0,707.1 L1098.0,698.5 L1099.0,700.5 L1100.0,710.4 L1101.0,710.6 L1102.0,710.6 L1103.0,712.0 L1104.0,705.1 L1105.0,707.1 L1106.0,706.7 L1107.0,708.2 L1108.0,706.2 L1109.0,708.1 L1110.0,714.7 L1111.0,715.7 L1112.0,707.6 L1113.0,705.0 L1114.0,704.4 L1115.0,711.1 L1116.0,707.7 L1117.0,708.5 L1118.0,713.8 L1119.0,710.7 L1120.0,707.9 L1121.0,712.3 L1122.0,706.3 L1123.0,707.7 L1124.0,710.5 L1125.0,704.5 L1126.0,702.2 L1127.0,706.4 L1128.0,704.4 L1129.0,710.1 L1130.0,701.8 L1131.0,707.5 L1132.0,703.0 L1133.0,706.5 L1134.0,703.0 L1135.0,708.4 L1136.0,708.7 L1137.0,711.1 L1138.0,716.6 L1139.0,718.8 L1140.0,713.5 L1141.0,711.4 L1142.0,712.1 L1143.0,709.8 L1144.0,712.5 L1145.0,715.5 L1146.0,716.0 L1147.0,717.3 L1148.0,715.0 L1149.0,713.2 L1150.0,713.8 L1151.0,718.5 L1152.0,719.0 L1153.0,724.3 L1154.0,723.3 L1155.0,724.8 L1156.0,720.2 L1157.0,717.7 L1158.0,715.2 L1159.0,715.1 L1160.0,716.0 L1161.0,716.7 L1162.0,716.0 L1163.0,722.1 L1164.0,718.7 L1165.0,714.4 L1166.0,721.4 L1167.0,718.9 L1168.0,720.0 L1169.0,719.0 L1170.0,716.8 L1171.0,722.7 L1172.0,713.0 L1173.0,712.7 L1174.0,716.4 L1175.0,709.5 L1176.0,714.3 L1177.0,715.6 L1178.0,715.0 L1179.0,722.6 L1180.0,719.3 L1181.0,716.9 L1182.0,722.6 L1183.0,719.2 L1184.0,726.5 L1185.0,728.9 L1186.0,730.2 L1187.0,722.6 L1188.0,728.7 L1189.0,725.7 L1190.0,727.5 L1191.0,724.1 L1192.0,722.4 L1193.0,719.0 L1194.0,721.7 L1195.0,717.9 L1196.0,727.0 L1197.0,719.6 L1198.0,729.1 L1199.0,722.2 L1200.0,721.4 L1201.0,727.6 L1202.0,725.8 L1203.0,727.2 L1204.0,724.0 L1205.0,724.2 L1206.0,718.2 L1207.0,723.6 L1208.0,722.2 L1209.0,726.4 L1210.0,717.6 L1211.0,720.2 L1212.0,727.8 L1213.0,732.0 L1214.0,729.4 L1215.0,731.7 L1216.0,730.0 L1217.0,728.1 L1218.0,728.5 L1219.0,729.5 L1220.0,724.0 L1221.0,726.3 L1222.0,730.0 L1223.0,726.9 L1224.0,730.1 L1225.0,729.4 L1226.0,731.6 L1227.0,732.5 L1228.0,731.5 L1229.0,731.7 L1230.0,725.5 L1231.0,724.4 L1232.0,727.0 L1233.0,725.9 L1234.0,729.1 L1235.0,732.2 L1236.0,732.3 L1237.0,728.7 L1238.0,728.0 L1239.0,727.5 L1240.0,728.5 L1241.0,731.7 L1242.0,729.7 L1243.0,736.2 L1244.0,734.0 L1245.0,732.8 L1246.0,734.4 L1247.0,730.8 L1248.0,736.9 L1249.0,736.7 L1250.0,732.8 L1251.0,736.1 L1252.0,731.9 L1253.0,731.4 L1254.0,731.5 L1255.0,731.1 L1256.0,734.7 L1257.0,735.0 L1258.0,735.7 L1259.0,731.3 L1260.0,738.7 L1261.0,737.4 L1262.0,737.8 L1263.0,737.2 L1264.0,734.7 L1265.0,730.7 L1266.0,730.7 L1267.0,734.2 L1268.0,736.1 L1269.0,739.1 L1270.0,733.8 L1271.0,739.9 L1272.0,738.8 L1273.0,737.8 L1274.0,740.0 L1275.0,731.5 L1276.0,736.7 L1277.0,737.3 L1278.0,729.8 L1279.0,735.5 L1280.0,740.1 L1281.0,735.5 L1282.0,742.0 L1283.0,741.5 L1284.0,736.2 L1285.0,732.5 L1286.0,732.2 L1287.0,739.9 L1288.0,738.3 L1289.0,739.4 L1290.0,742.7 L1291.0,745.7 L1292.0,737.9 L1293.0,734.1 L1294.0,741.0 L1295.0,735.6 L1296.0,736.5 L1297.0,742.3 L1298.0,736.2 L1299.0,735.2 L1300.0,743.3 L1301.0,738.3 L1302.0,738.9 L1303.0,746.1 L1304.0,740.3 L1305.0,747.1 L1306.0,742.5 L1307.0,742.5 L1308.0,741.9 L1309.0,745.2 L1310.0,745.6 L1311.0,744.3 L1312.0,745.5 L1313.0,743.8 L1314.0,748.9 L1315.0,749.0 L1316.0,746.6 L1317.0,746.5 L1318.0,738.9 L1319.0,740.1 L1320.0,739.4 L1321.0,738.6 L1322.0,745.7 L1323.0,746.7 L1324.0,748.3 L1325.0,746.6 L1326.0,744.2 L1327.0,747.1 L1328.0,743.8 L1329.0,751.6 L1330.0,745.9 L1331.0,745.3 L1332.0,750.6 L1333.0,743.0 L1334.0,748.8 L1335.0,745.2 L1336.0,750.3 L1337.0,747.2 L1338.0,756.3 L1339.0,751.2 L1340.0,750.1 L1341.0,752.2 L1342.0,751.0 L1343.0,746.9 L1344.0,744.8 L1345.0,747.9 L1346.0,741.9 L1347.0,750.8 L1348.0,747.2 L1349.0,746.8 L1350.0,749.4 L1351.0,746.0 L1352.0,746.3 L1353.0,746.9 L1354.0,744.2 L1355.0,743.9 L1356.0,743.9 L1357.0,746.0 L1358.0,749.2 L1359.0,747.3 L1360.0,751.6 L1361.0,750.3 L1362.0,748.3 L1363.0,747.3 L1364.0,752.0 L1365.0,747.2 L1366.0,744.9 L1367.0,747.6 L1368.0,752.2 L1369.0,749.5 L1370.0,750.9 L1371.0,750.0 L1372.0,745.7 L1373.0,749.7 L1374.0,748.1 L1375.0,750.2 L1376.0,751.8 L1377.0,753.9 L1378.0,758.0 L1379.0,752.0 L1380.0,758.1 L1381.0,749.1 L1382.0,754.8 L1383.0,749.4 L1384.0,755.9 L1385.0,751.9 L1386.0,751.1 L1387.0,754.0 L1388.0,755.4 L1389.0,754.1 L1390.0,753.1 L1391.0,755.1 L1392.0,747.7 L1393.0,751.8 L1394.0,750.4 L1395.0,757.5 L1396.0,755.9 L1397.0,759.7 L1398.0,761.3 L1399.0,762.8 L1400.0,759.5 L1401.0,760.9 L1402.0,757.6 L1403.0,751.4 L1404.0,757.0 L1405.0,747.8 L1406.0,745.9 L1407.0,755.0 L1408.0,752.4 L1409.0,758.2 L1410.0,754.8 L1411.0,756.5 L1412.0,761.2 L1413.0,755.0 L1414.0,759.3 L1415.0,762.2 L1416.0,754.7 L1417.0,758.2 L1418.0,757.7 L1419.0,758.2 L1420.0,761.2 L1421.0,762.2 L1422.0,757.7 L1423.0,757.3 L1424.0,758.5 L1425.0,760.6 L1426.0,751.8 L1427.0,756.1 L1428.0,752.9 L1429.0,760.4 L1430.0,757.7 L1431.0,759.6 L1432.0,762.1 L1433.0,758.4 L1434.0,764.9 L1435.0,765.9 L1436.0,766.8 L1437.0,761.9 L1438.0,761.9 L1439.0,761.4 L1440.0,768.3 L1441.0,764.2 L1442.0,764.0 L1443.0,763.4 L1444.0,763.2 L1445.0,757.9 L1446.0,756.3 L1447.0,759.9 L1448.0,759.6 L1449.0,754.8 L1450.0,752.4 L1451.0,762.2 L1452.0,762.4 L1453.0,763.2 L1454.0,763.5 L1455.0,767.2 L1456.0,761.0 L1457.0,757.7 L1458.0,755.2 L1459.0,758.7 L1460.0,762.3 L1461.0,761.3 L1462.0,767.9 L1463.0,764.4 L1464.0,761.8 L1465.0,762.8 L1466.0,761.5 L1467.0,763.8 L1468.0,764.7 L1469.0,767.1 L1470.0,768.9 L1471.0,772.0 L1472.0,766.1 L1473.0,771.4 L1474.0,767.0 L1475.0,772.1 L1476.0,765.1 L1477.0,768.9 L1478.0,768.5 L1479.0,770.8 L1480.0,765.9 L1481.0,766.3 L1482.0,764.9 L1483.0,769.1 L1484.0,769.5 L1485.0,764.5 L1486.0,766.4 L1487.0,766.6 L1488.0,773.4 L1489.0,768.8 L1490.0,769.8 L1491.0,768.1 L1492.0,772.3 L1493.0,774.4 L1494.0,773.8 L1495.0,767.8 L1496.0,771.8 L1497.0,772.3 L1498.0,768.3 L1499.0,775.4 L1500.0,771.4 L1501.0,771.5 L1502.0,774.9 L1503.0,773.9 L1504.0,772.5 L1505.0,775.2 L1506.0,771.5 L1507.0,772.0 L1508.0,771.6 L1509.0,778.1 L1510.0,778.5 L1511.0,778.9 L1512.0,775.9 L1513.0,771.7 L1514.0,770.7 L1515.0,772.9 L1516.0,773.4 L1517.0,781.3 L1518.0,779.9 L1519.0,776.9 L1520.0,781.3 L1521.0,780.7 L1522.0,775.6 L1523.0,780.2 L1524.0,773.7 L1525.0,779.0 L1526.0,769.6 L1527.0,770.4 L1528.0,769.5 L1529.0,774.5 L1530.0,773.6 L1531.0,774.1 L1532.0,772.8 L1533.0,778.0 L1534.0,783.1 L1535.0,776.1 L1536.0,782.8 L1537.0,780.9 L1538.0,780.6 L1539.0,779.0 L1540.0,778.9 L1541.0,782.7 L1542.0,776.9 L1543.0,777.2 L1544.0,775.4 L1545.0,775.9 L1546.0,781.4 L1547.0,775.5 L1548.0,782.0 L1549.0,779.3 L1550.0,784.2 L1551.0,782.1 L1552.0,780.5 L1553.0,780.9 L1554.0,772.6 L1555.0,775.7 L1556.0,777.6 L1557.0,779.1 L1558.0,782.3 L1559.0,784.0 L1560.0,782.6 L1561.0,784.1 L1562.0,781.8 L1563.0,779.2 L1564.0,781.0 L1565.0,783.6 L1566.0,784.7 L1567.0,778.9 L1568.0,776.9 L1569.0,777.5 L1570.0,772.4 L1571.0,781.2 L1572.0,776.1 L1573.0,784.9 L1574.0,786.3 L1575.0,783.6 L1576.0,786.9 L1577.0,785.9 L1578.0,790.2 L1579.0,788.1 L1580.0,784.0 L1581.0,785.2 L1582.0,783.9 L1583.0,778.6 L1584.0,785.7 L1585.0,786.8 L1586.0,789.4 L1587.0,788.2 L1588.0,785.8 L1589.0,784.9 L1590.0,789.7 L1591.0,786.3 L1592.0,791.8 L1593.0,790.7 L1594.0,793.6 L1595.0,788.9 L1596.0,788.0 L1597.0,793.1 L1598.0,790.5 L1599.0,789.1 L1600.0,792.0 L1601.0,792.1 L1602.0,795.2 L1603.0,793.1 L1604.0,789.9 L1605.0,795.2 L1606.0,793.3 L1607.0,791.4 L1608.0,786.4 L1609.0,785.0 L1610.0,789.2 L1611.0,790.5 L1612.0,789.4 L1613.0,785.9 L1614.0,790.9 L1615.0,790.5 L1616.0,790.5 L1617.0,793.8" stroke="#000000" stroke-width="7.0"/><path d="M277.0,339.8 L278.0,338.6 L279.0,342.5 L280.0,336.8 L281.0,338.6 L282.0,344.6 L283.0,339.5 L284.0,347.5 L285.0,342.8 L286.0,345.9 L287.0,346.5 L288.0,348.4 L289.0,341.3 L290.0,347.5 L291.0,343.5 L292.0,349.3 L293.0,345.1 L294.0,352.6 L295.0,345.8 L296.0,344.0 L297.0,340.6 L298.0,341.0 L299.0,342.2 L300.0,348.9 L301.0,346.3 L302.0,344.6 L303.0,348.4 L304.0,340.3 L305.0,339.3 L306.0,344.1 L307.0,343.4 L308.0,340.5 L309.0,342.3 L310.0,334.0 L311.0,340.9 L312.0,339.3 L313.0,338.9 L314.0,340.5 L315.0,334.7 L316.0,335.8 L317.0,335.6 L318.0,338.7 L319.0,339.3 L320.0,339.3 L321.0,338.0 L322.0,341.2 L323.0,342.0 L324.0,341.3 L325.0,335.4 L326.0,336.3 L327.0,338.4 L328.0,339.9 L329.0,343.9 L330.0,342.0 L331.0,343.8 L332.0,339.8 L333.0,338.3 L334.0,339.4 L335.0,338.6 L336.0,329.6 L337.0,328.2 L338.0,330.7 L339.0,325.6 L340.0,325.4 L341.0,328.5 L342.0,336.5 L343.0,335.9 L344.0,337.8 L345.0,334.4 L346.0,330.8 L347.0,334.1 L348.0,336.9 L349.0,332.3 L350.0,328.3 L351.0,330.0 L352.0,330.5 L353.0,329.4 L354.0,330.0 L355.0,325.6 L356.0,323.4 L357.0,328.2 L358.0,326.4 L359.0,322.3 L360.0,318.2 L361.0,318.1 L362.0,318.8 L363.0,323.8 L364.0,322.6 L365.0,329.0 L366.0,327.5 L367.0,324.2 L368.0,326.9 L369.0,324.9 L370.0,323.0 L371.0,321.9 L372.0,314.0 L373.0,315.3 L374.0,316.2 L375.0,309.6 L376.0,307.8 L377.0,307.9 L378.0,309.2 L379.0,311.1 L380.0,310.8 L381.0,314.1 L382.0,310.9 L383.0,313.3 L384.0,317.0 L385.0,316.8 L386.0,321.2 L387.0,321.0 L388.0,315.3 L389.0,315.7 L390.0,317.1 L391.0,317.7 L392.0,316.8 L393.0,321.5 L394.0,316.6 L395.0,320.7 L396.0,319.6 L397.0,327.7 L398.0,327.1 L399.0,327.9 L400.0,318.5 L401.0,320.8 L402.0,316.6 L403.0,310.9 L404.0,316.0 L405.0,315.2 L406.0,307.5 L407.0,313.9 L408.0,311.9 L409.0,310.7 L410.0,310.5 L411.0,309.3 L412.0,308.7 L413.0,313.2 L414.0,317.6 L415.0,310.2 L416.0,310.4 L417.0,306.9 L418.0,308.3 L419.0,312.4 L420.0,313.7 L421.0,310.6 L422.0,313.5 L423.0,307.2 L424.0,308.8 L425.0,308.6 L426.0,305.7 L427.0,299.3 L428.0,302.4 L429.0,299.8 L430.0,303.1 L431.0,308.3 L432.0,304.2 L433.0,310.1 L434.0,312.1 L435.0,310.4 L436.0,304.7 L437.0,310.1 L438.0,309.5 L439.0,310.6 L440.0,302.8 L441.0,303.2 L442.0,306.0 L443.0,309.0 L444.0,309.3 L445.0,307.7 L446.0,313.3 L447.0,313.9 L448.0,313.9 L449.0,313.2 L450.0,313.9 L451.0,314.5 L452.0,308.8 L453.0,311.4 L454.0,308.4 L455.0,307.8 L456.0,312.9 L457.0,309.0 L458.0,308.8 L459.0,309.9 L460.0,314.1 L461.0,311.9 L462.0,317.8 L463.0,312.2 L464.0,318.6 L465.0,311.1 L466.0,315.3 L467.0,312.8 L468.0,311.2 L469.0,309.6 L470.0,309.4 L471.0,314.8 L472.0,315.0 L473.0,317.2 L474.0,316.9 L475.0,318.7 L476.0,313.6 L477.0,314.8 L478.0,314.9 L479.0,315.7 L480.0,317.7 L481.0,319.3 L482.0,318.0 L483.0,325.4 L484.0,324.2 L485.0,325.3 L486.0,328.0 L487.0,323.5 L488.0,322.1 L489.0,321.5 L490.0,321.3 L491.0,320.9 L492.0,320.8 L493.0,319.7 L494.0,321.8 L495.0,321.4 L496.0,323.2 L497.0,326.8 L498.0,325.6 L499.0,330.1 L500.0,329.5 L501.0,325.6 L502.0,329.7 L503.0,325.0 L504.0,325.1 L505.0,333.3 L506.0,326.1 L507.0,326.2 L508.0,333.7 L509.0,327.0 L510.0,332.8 L511.0,334.9 L512.0,334.9 L513.0,337.9 L514.0,346.7 L515.0,340.8 L516.0,338.4 L517.0,338.8 L518.0,340.1 L519.0,338.6 L520.0,339.2 L521.0,347.2 L522.0,343.7 L523.0,343.2 L524.0,342.6 L525.0,351.1 L526.0,346.7 L527.0,349.6 L528.0,348.5 L529.0,352.4 L530.0,347.6 L531.0,349.5 L532.0,354.1 L533.0,350.4 L534.0,355.3 L535.0,359.2 L536.0,358.3 L537.0,358.2 L538.0,362.5 L539.0,359.2 L540.0,362.6 L541.0,360.6 L542.0,359.0 L543.0,361.0 L544.0,359.2 L545.0,357.2 L546.0,359.0 L547.0,360.0 L548.0,365.1 L549.0,368.2 L550.0,368.7 L551.0,369.5 L552.0,364.7 L553.0,367.3 L554.0,368.9 L555.0,363.5 L556.0,366.4 L557.0,358.4 L558.0,365.0 L559.0,368.6 L560.0,373.3 L561.0,376.0 L562.0,378.9 L563.0,380.5 L564.0,386.7 L565.0,390.1 L566.0,388.6 L567.0,388.5 L568.0,390.4 L569.0,384.7 L570.0,384.6 L571.0,384.1 L572.0,392.9 L573.0,392.9 L574.0,395.2 L575.0,388.8 L576.0,385.6 L577.0,385.3 L578.0,385.7 L579.0,382.6 L580.0,384.4 L581.0,385.5 L582.0,390.2 L583.0,382.2 L584.0,386.1 L585.0,377.5 L586.0,382.3 L587.0,387.3 L588.0,389.3 L589.0,396.0 L590.0,396.6 L591.0,396.1 L592.0,398.5 L593.0,398.4 L594.0,402.7 L595.0,404.2 L596.0,407.8 L597.0,413.1 L598.0,414.3 L599.0,413.0 L600.0,412.9 L601.0,411.1 L602.0,408.1 L603.0,403.7 L604.0,403.9 L605.0,404.8 L606.0,403.9 L607.0,408.3 L608.0,410.5 L609.0,413.3 L610.0,413.4 L611.0,414.4 L612.0,410.4 L613.0,416.3 L614.0,414.6 L615.0,415.7 L616.0,424.2 L617.0,424.4 L618.0,420.6 L619.0,420.3 L620.0,428.4 L621.0,429.8 L622.0,426.6 L623.0,433.5 L624.0,435.3 L625.0,434.6 L626.0,433.7 L627.0,431.7 L628.0,431.5 L629.0,433.9 L630.0,435.6 L631.0,435.9 L632.0,433.6 L633.0,439.3 L634.0,434.4 L635.0,437.4 L636.0,432.3 L637.0,429.4 L638.0,429.5 L639.0,438.1 L640.0,437.1 L641.0,439.1 L642.0,446.7 L643.0,444.6 L644.0,445.4 L645.0,444.4 L646.0,444.4 L647.0,446.9 L648.0,442.9 L649.0,446.1 L650.0,442.7 L651.0,444.8 L652.0,444.6 L653.0,451.8 L654.0,448.6 L655.0,451.9 L656.0,454.5 L657.0,451.7 L658.0,451.5 L659.0,453.5 L660.0,457.1 L661.0,457.9 L662.0,457.0 L663.0,463.9 L664.0,462.8 L665.0,465.3 L666.0,465.6 L667.0,467.0 L668.0,470.2 L669.0,471.1 L670.0,470.6 L671.0,475.3 L672.0,477.6 L673.0,472.5 L674.0,474.3 L675.0,476.1 L676.0,479.9 L677.0,484.7 L678.0,483.6 L679.0,486.2 L680.0,482.2 L681.0,483.7 L682.0,481.2 L683.0,485.7 L684.0,484.1 L685.0,483.4 L686.0,487.9 L687.0,490.7 L688.0,494.7 L689.0,491.3 L690.0,497.9 L691.0,498.4 L692.0,494.5 L693.0,500.9 L694.0,503.6 L695.0,504.7 L696.0,503.1 L697.0,501.3 L698.0,503.1 L699.0,504.5 L700.0,504.6 L701.0,501.7 L702.0,507.8 L703.0,505.7 L704.0,502.6 L705.0,505.2 L706.0,504.0 L707.0,509.4 L708.0,508.8 L709.0,515.2 L710.0,518.4 L711.0,525.8 L712.0,528.4 L713.0,526.8 L714.0,533.1 L715.0,531.3 L716.0,528.9 L717.0,534.1 L718.0,526.9 L719.0,533.4 L720.0,538.3 L721.0,538.1 L722.0,544.1 L723.0,545.2 L724.0,539.0 L725.0,539.9 L726.0,533.8 L727.0,540.3 L728.0,541.0 L729.0,535.4 L730.0,541.0 L731.0,537.7 L732.0,535.5 L733.0,537.1 L734.0,541.5 L735.0,539.1 L736.0,539.4 L737.0,536.0 L738.0,536.2 L739.0,540.4 L740.0,544.2 L741.0,549.2 L742.0,548.7 L743.0,547.3 L744.0,551.5 L745.0,549.3 L746.0,549.3 L747.0,550.4 L748.0,548.6 L749.0,547.6 L750.0,547.1 L751.0,552.9 L752.0,555.0 L753.0,557.7 L754.0,559.3 L755.0,557.5 L756.0,559.0 L757.0,564.3 L758.0,558.9 L759.0,562.1 L760.0,564.4 L761.0,565.7 L762.0,566.7 L763.0,564.5 L764.0,567.6 L765.0,564.5 L766.0,565.7 L767.0,565.6 L768.0,568.3 L769.0,572.2 L770.0,571.9 L771.0,568.6 L772.0,569.4 L773.0,569.4 L774.0,564.9 L775.0,564.9 L776.0,566.8 L777.0,569.5 L778.0,565.0 L779.0,573.6 L780.0,572.2 L781.0,582.2 L782.0,578.8 L783.0,583.9 L784.0,577.7 L785.0,581.4 L786.0,579.7 L787.0,584.3 L788.0,584.7 L789.0,580.1 L790.0,580.0 L791.0,586.5 L792.0,585.2 L793.0,586.0 L794.0,587.0 L795.0,587.3 L796.0,589.2 L797.0,588.0 L798.0,586.1 L799.0,590.9 L800.0,597.1 L801.0,597.5 L802.0,599.2 L803.0,599.9 L804.0,595.2 L805.0,593.6 L806.0,596.1 L807.0,591.3 L808.0,597.0 L809.0,591.7 L810.0,595.0 L811.0,594.4 L812.0,596.7 L813.0,591.3 L814.0,596.4 L815.0,595.7 L816.0,587.5 L817.0,590.6 L818.0,585.5 L819.0,590.0 L820.0,592.6 L821.0,585.8 L822.0,590.2 L823.0,590.1 L824.0,593.1 L825.0,591.9 L826.0,584.1 L827.0,586.1 L828.0,589.4 L829.0,593.7 L830.0,594.8 L831.0,591.4 L832.0,592.7 L833.0,591.2 L834.0,591.2 L835.0,591.7 L836.0,591.1 L837.0,597.2 L838.0,599.4 L839.0,600.6 L840.0,594.3 L841.0,592.7 L842.0,594.9 L843.0,596.8 L844.0,600.5 L845.0,600.5 L846.0,607.4 L847.0,607.9 L848.0,608.7 L849.0,608.0 L850.0,611.7 L851.0,607.9 L852.0,613.9 L853.0,609.3 L854.0,614.2 L855.0,609.0 L856.0,613.6 L857.0,619.4 L858.0,620.1 L859.0,621.0 L860.0,625.7 L861.0,620.5 L862.0,626.3 L863.0,621.5 L864.0,617.5 L865.0,615.9 L866.0,613.2 L867.0,617.0 L868.0,616.4 L869.0,618.0 L870.0,620.1 L871.0,623.9 L872.0,624.8 L873.0,623.6 L874.0,628.3 L875.0,627.9 L876.0,629.1 L877.0,624.4 L878.0,625.0 L879.0,625.3 L880.0,620.6 L881.0,619.2 L882.0,620.1 L883.0,619.8 L884.0,625.1 L885.0,622.9 L886.0,623.7 L887.0,625.7 L888.0,624.5 L889.0,626.6 L890.0,625.1 L891.0,621.6 L892.0,622.3 L893.0,624.4 L894.0,623.8 L895.0,624.4 L896.0,622.9 L897.0,626.4 L898.0,626.6 L899.0,626.8 L900.0,627.4 L901.0,629.4 L902.0,625.4 L903.0,632.9 L904.0,629.3 L905.0,630.7 L906.0,636.0 L907.0,631.9 L908.0,631.2 L909.0,632.5 L910.0,627.5 L911.0,629.5 L912.0,629.5 L913.0,634.3 L914.0,627.9 L915.0,634.1 L916.0,636.6 L917.0,637.1 L918.0,641.4 L919.0,639.8 L920.0,638.0 L921.0,637.8 L922.0,636.0 L923.0,636.3 L924.0,636.3 L925.0,637.9 L926.0,637.2 L927.0,634.3 L928.0,638.3 L929.0,636.3 L930.0,639.7 L931.0,634.6 L932.0,638.4 L933.0,637.1 L934.0,640.2 L935.0,641.1 L936.0,639.1 L937.0,637.9 L938.0,640.1 L939.0,636.1 L940.0,643.6 L941.0,640.7 L942.0,643.6 L943.0,638.3 L944.0,636.0 L945.0,635.6 L946.0,637.2 L947.0,635.5 L948.0,640.5 L949.0,636.3 L950.0,641.1 L951.0,642.8 L952.0,641.0 L953.0,642.6 L954.0,641.7 L955.0,641.1 L956.0,634.0 L957.0,636.9 L958.0,634.4 L959.0,635.5 L960.0,637.8 L961.0,637.8 L962.0,633.5 L963.0,634.0 L964.0,633.9 L965.0,639.8 L966.0,641.2 L967.0,633.6 L968.0,632.0 L969.0,630.1 L970.0,634.9 L971.0,629.6 L972.0,635.3 L973.0,639.5 L974.0,636.1 L975.0,640.6 L976.0,638.4 L977.0,641.3 L978.0,640.4 L979.0,638.5 L980.0,644.8 L981.0,642.2 L982.0,646.5 L983.0,643.7 L984.0,646.8 L985.0,644.7 L986.0,640.4 L987.0,640.1 L988.0,647.8 L989.0,645.3 L990.0,646.4 L991.0,645.8 L992.0,641.2 L993.0,643.1 L994.0,641.7 L995.0,637.7 L996.0,641.9 L997.0,645.5 L998.0,643.1 L999.0,642.9 L1000.0,636.0 L1001.0,637.3 L1002.0,636.7 L1003.0,639.6 L1004.0,644.5 L1005.0,644.3 L1006.0,647.5 L1007.0,646.1 L1008.0,646.4 L1009.0,644.7 L1010.0,642.3 L1011.0,643.0 L1012.0,648.7 L1013.0,645.6 L1014.0,649.3 L1015.0,644.9 L1016.0,649.5 L1017.0,642.5 L1018.0,643.1 L1019.0,642.6 L1020.0,646.4 L1021.0,645.1 L1022.0,641.2 L1023.0,640.6 L1024.0,644.1 L1025.0,642.1 L1026.0,640.3 L1027.0,642.1 L1028.0,649.2 L1029.0,651.1 L1030.0,654.6 L1031.0,647.5 L1032.0,649.3 L1033.0,645.3 L1034.0,647.2 L1035.0,645.1 L1036.0,645.6 L1037.0,648.4 L1038.0,645.5 L1039.0,651.7 L1040.0,648.2 L1041.0,650.3 L1042.0,655.5 L1043.0,651.9 L1044.0,652.4 L1045.0,656.4 L1046.0,654.9 L1047.0,656.9 L1048.0,657.3 L1049.0,658.1 L1050.0,651.4 L1051.0,653.4 L1052.0,653.4 L1053.0,651.6 L1054.0,655.7 L1055.0,652.6 L1056.0,657.4 L1057.0,651.3 L1058.0,654.8 L1059.0,657.9 L1060.0,660.7 L1061.0,659.6 L1062.0,664.1 L1063.0,657.9 L1064.0,656.8 L1065.0,653.9 L1066.0,652.3 L1067.0,656.0 L1068.0,659.2 L1069.0,656.4 L1070.0,660.0 L1071.0,659.7 L1072.0,664.0 L1073.0,660.3 L1074.0,662.9 L1075.0,658.1 L1076.0,663.1 L1077.0,656.2 L1078.0,657.1 L1079.0,660.1 L1080.0,658.5 L1081.0,657.8 L1082.0,657.8 L1083.0,658.5 L1084.0,663.8 L1085.0,664.6 L1086.0,669.0 L1087.0,668.9 L1088.0,664.6 L1089.0,667.0 L1090.0,665.9 L1091.0,667.1 L1092.0,659.9 L1093.0,662.7 L1094.0,660.6 L1095.0,660.1 L1096.0,661.9 L1097.0,663.7 L1098.0,658.1 L1099.0,662.7 L1100.0,662.5 L1101.0,662.9 L1102.0,660.7 L1103.0,657.0 L1104.0,662.2 L1105.0,662.7 L1106.0,661.9 L1107.0,667.3 L1108.0,665.1 L1109.0,670.4 L1110.0,672.1 L1111.0,668.5 L1112.0,666.6 L1113.0,672.1 L1114.0,667.1 L1115.0,668.6 L1116.0,676.3 L1117.0,673.1 L1118.0,674.6 L1119.0,676.3 L1120.0,679.6 L1121.0,676.3 L1122.0,677.9 L1123.0,675.3 L1124.0,676.1 L1125.0,679.3 L1126.0,677.8 L1127.0,676.9 L1128.0,678.7 L1129.0,671.5 L1130.0,672.9 L1131.0,676.5 L1132.0,675.1 L1133.0,681.0 L1134.0,676.3 L1135.0,682.1 L1136.0,680.5 L1137.0,680.1 L1138.0,682.3 L1139.0,678.5 L1140.0,678.0 L1141.0,678.9 L1142.0,681.4 L1143.0,680.9 L1144.0,678.3 L1145.0,678.4 L1146.0,676.2 L1147.0,676.6 L1148.0,671.3 L1149.0,676.4 L1150.0,673.8 L1151.0,674.8 L1152.0,675.9 L1153.0,682.1 L1154.0,681.7 L1155.0,682.7 L1156.0,684.1 L1157.0,681.4 L1158.0,681.5 L1159.0,680.4 L1160.0,682.7 L1161.0,686.5 L1162.0,681.8 L1163.0,682.7 L1164.0,682.5 L1165.0,686.9 L1166.0,688.7 L1167.0,683.8 L1168.0,688.0 L1169.0,681.1 L1170.0,681.3 L1171.0,681.1 L1172.0,686.4 L1173.0,680.9 L1174.0,685.9 L1175.0,683.9 L1176.0,686.7 L1177.0,687.4 L1178.0,695.2 L1179.0,689.4 L1180.0,691.3 L1181.0,687.0 L1182.0,683.6 L1183.0,685.1 L1184.0,688.1 L1185.0,690.5 L1186.0,695.7 L1187.0,690.3 L1188.0,690.5 L1189.0,697.2 L1190.0,695.3 L1191.0,695.9 L1192.0,695.6 L1193.0,693.1 L1194.0,695.7 L1195.0,699.4 L1196.0,694.5 L1197.0,696.3 L1198.0,694.6 L1199.0,692.7 L1200.0,692.4 L1201.0,693.1 L1202.0,698.7 L1203.0,694.3 L1204.0,695.7 L1205.0,695.1 L1206.0,695.4 L1207.0,691.5 L1208.0,694.3 L1209.0,697.6 L1210.0,697.7 L1211.0,694.5 L1212.0,694.1 L1213.0,693.6 L1214.0,692.6 L1215.0,691.1 L1216.0,689.0 L1217.0,690.4 L1218.0,695.8 L1219.0,696.5 L1220.0,695.5 L1221.0,698.3 L1222.0,695.4 L1223.0,697.1 L1224.0,697.4 L1225.0,700.5 L1226.0,702.5 L1227.0,697.3 L1228.0,696.1 L1229.0,698.2 L1230.0,702.2 L1231.0,704.8 L1232.0,699.3 L1233.0,703.1 L1234.0,705.4 L1235.0,706.3 L1236.0,701.6 L1237.0,698.2 L1238.0,700.1 L1239.0,699.6 L1240.0,702.1 L1241.0,702.7 L1242.0,705.3 L1243.0,702.4 L1244.0,702.7 L1245.0,700.0 L1246.0,700.8 L1247.0,703.1 L1248.0,703.8 L1249.0,704.3 L1250.0,703.4 L1251.0,702.5 L1252.0,702.5 L1253.0,702.8 L1254.0,707.6 L1255.0,707.4 L1256.0,710.4 L1257.0,711.4 L1258.0,709.0 L1259.0,709.8 L1260.0,707.2 L1261.0,710.1 L1262.0,705.9 L1263.0,705.5 L1264.0,708.6 L1265.0,713.5 L1266.0,712.7 L1267.0,714.2 L1268.0,711.7 L1269.0,712.3 L1270.0,715.1 L1271.0,709.7 L1272.0,712.2 L1273.0,712.4 L1274.0,712.5 L1275.0,708.6 L1276.0,709.0 L1277.0,711.6 L1278.0,709.8 L1279.0,710.0 L1280.0,707.0 L1281.0,703.6 L1282.0,708.5 L1283.0,703.3 L1284.0,708.4 L1285.0,705.6 L1286.0,709.9 L1287.0,711.0 L1288.0,712.4 L1289.0,714.5 L1290.0,715.5 L1291.0,717.8 L1292.0,711.3 L1293.0,711.4 L1294.0,701.9 L1295.0,703.4 L1296.0,706.9 L1297.0,710.3 L1298.0,717.7 L1299.0,710.4 L1300.0,712.8 L1301.0,714.7 L1302.0,709.7 L1303.0,711.9 L1304.0,713.5 L1305.0,714.5 L1306.0,720.8 L1307.0,719.6 L1308.0,715.9 L1309.0,717.5 L1310.0,716.0 L1311.0,716.4 L1312.0,711.9 L1313.0,710.6 L1314.0,714.5 L1315.0,713.9 L1316.0,715.3 L1317.0,713.0 L1318.0,715.7 L1319.0,714.9 L1320.0,717.9 L1321.0,720.8 L1322.0,718.0 L1323.0,717.9 L1324.0,719.9 L1325.0,718.5 L1326.0,717.6 L1327.0,714.3 L1328.0,719.8 L1329.0,716.8 L1330.0,718.8 L1331.0,715.6 L1332.0,720.5 L1333.0,720.6 L1334.0,716.9 L1335.0,721.1 L1336.0,715.6 L1337.0,720.2 L1338.0,721.3 L1339.0,721.8 L1340.0,719.3 L1341.0,720.6 L1342.0,720.2 L1343.0,725.6 L1344.0,723.2 L1345.0,724.6 L1346.0,722.3 L1347.0,721.9 L1348.0,725.9 L1349.0,725.9 L1350.0,724.5 L1351.0,723.2 L1352.0,724.5 L1353.0,719.7 L1354.0,719.1 L1355.0,723.9 L1356.0,724.2 L1357.0,726.1 L1358.0,726.9 L1359.0,723.6 L1360.0,720.6 L1361.0,724.8 L1362.0,724.7 L1363.0,722.1 L1364.0,720.4 L1365.0,724.4 L1366.0,719.4 L1367.0,720.0 L1368.0,723.4 L1369.0,723.2 L1370.0,725.8 L1371.0,720.4 L1372.0,727.7 L1373.0,723.0 L1374.0,724.9 L1375.0,721.5 L1376.0,724.4 L1377.0,725.6 L1378.0,729.0 L1379.0,722.1 L1380.0,720.4 L1381.0,724.8 L1382.0,724.0 L1383.0,723.4 L1384.0,726.1 L1385.0,731.5 L1386.0,730.9 L1387.0,730.3 L1388.0,729.6 L1389.0,727.7 L1390.0,727.4 L1391.0,728.7 L1392.0,727.0 L1393.0,730.6 L1394.0,733.6 L1395.0,733.1 L1396.0,726.1 L1397.0,726.6 L1398.0,729.2 L1399.0,730.8 L1400.0,726.8 L1401.0,726.7 L1402.0,732.7 L1403.0,728.2 L1404.0,730.5 L1405.0,732.2 L1406.0,726.7 L1407.0,726.9 L1408.0,728.9 L1409.0,725.2 L1410.0,728.3 L1411.0,730.2 L1412.0,730.5 L1413.0,734.3 L1414.0,735.2 L1415.0,732.7 L1416.0,732.9 L1417.0,726.3 L1418.0,725.1 L1419.0,727.1 L1420.0,727.5 L1421.0,734.3 L1422.0,735.2 L1423.0,734.1 L1424.0,728.8 L1425.0,730.9 L1426.0,730.1 L1427.0,731.0 L1428.0,733.7 L1429.0,734.6 L1430.0,731.5 L1431.0,733.7 L1432.0,733.0 L1433.0,734.8 L1434.0,734.9 L1435.0,737.2 L1436.0,731.6 L1437.0,736.5 L1438.0,729.7 L1439.0,734.9 L1440.0,731.8 L1441.0,734.1 L1442.0,735.0 L1443.0,729.5 L1444.0,732.5 L1445.0,732.1 L1446.0,728.0 L1447.0,727.6 L1448.0,732.4 L1449.0,730.7 L1450.0,731.0 L1451.0,732.5 L1452.0,736.1 L1453.0,736.4 L1454.0,736.8 L1455.0,732.9 L1456.0,731.9 L1457.0,733.0 L1458.0,729.5 L1459.0,731.0 L1460.0,739.0 L1461.0,740.1 L1462.0,741.7 L1463.0,746.7 L1464.0,743.6 L1465.0,740.9 L1466.0,743.6 L1467.0,740.9 L1468.0,744.3 L1469.0,742.8 L1470.0,736.4 L1471.0,736.6 L1472.0,740.4 L1473.0,738.9 L1474.0,737.1 L1475.0,738.8 L1476.0,736.4 L1477.0,739.2 L1478.0,740.3 L1479.0,743.5 L1480.0,741.3 L1481.0,741.4 L1482.0,737.7 L1483.0,741.9 L1484.0,743.0 L1485.0,744.4 L1486.0,742.4 L1487.0,749.6 L1488.0,750.3 L1489.0,752.9 L1490.0,757.4 L1491.0,754.9 L1492.0,746.4 L1493.0,749.8 L1494.0,744.6 L1495.0,746.7 L1496.0,743.8 L1497.0,745.7 L1498.0,752.7 L1499.0,749.9 L1500.0,755.1 L1501.0,755.3 L1502.0,752.7 L1503.0,751.5 L1504.0,750.0 L1505.0,748.0 L1506.0,748.5 L1507.0,750.4 L1508.0,746.1 L1509.0,747.3 L1510.0,747.7 L1511.0,746.2 L1512.0,747.7 L1513.0,748.8 L1514.0,754.0 L1515.0,748.9 L1516.0,751.2 L1517.0,753.3 L1518.0,748.2 L1519.0,754.3 L1520.0,750.3 L1521.0,752.7 L1522.0,752.8 L1523.0,753.7 L1524.0,756.5 L1525.0,760.2 L1526.0,760.2 L1527.0,755.4 L1528.0,752.8 L1529.0,751.4 L1530.0,751.9 L1531.0,753.1 L1532.0,748.4 L1533.0,748.7 L1534.0,752.5 L1535.0,750.4 L1536.0,750.1 L1537.0,757.1 L1538.0,752.7 L1539.0,757.7 L1540.0,752.4 L1541.0,758.4 L1542.0,755.4 L1543.0,753.6 L1544.0,751.9 L1545.0,755.8 L1546.0,752.0 L1547.0,753.7 L1548.0,752.4 L1549.0,751.9 L1550.0,753.5 L1551.0,753.5 L1552.0,757.5 L1553.0,758.5 L1554.0,758.5 L1555.0,755.4 L1556.0,756.2 L1557.0,761.4 L1558.0,758.2 L1559.0,759.8 L1560.0,756.5 L1561.0,762.7 L1562.0,760.8 L1563.0,758.1 L1564.0,759.0 L1565.0,755.9 L1566.0,756.0 L1567.0,755.7 L1568.0,755.8 L1569.0,754.7 L1570.0,753.0 L1571.0,758.0 L1572.0,755.6 L1573.0,754.4 L1574.0,756.3 L1575.0,755.1 L1576.0,759.4 L1577.0,762.7 L1578.0,766.5 L1579.0,767.8 L1580.0,763.2 L1581.0,761.4 L1582.0,761.3 L1583.0,762.8 L1584.0,759.6 L1585.0,762.5 L1586.0,760.3 L1587.0,760.1 L1588.0,762.9 L1589.0,765.1 L1590.0,770.2 L1591.0,768.2 L1592.0,770.1 L1593.0,770.7 L1594.0,767.8 L1595.0,771.0 L1596.0,769.0 L1597.0,769.3 L1598.0,775.2 L1599.0,771.7 L1600.0,767.6 L1601.0,767.1 L1602.0,769.6 L1603.0,763.3 L1604.0,769.2 L1605.0,763.5 L1606.0,769.2 L1607.0,767.0 L1608.0,764.0 L1609.0,765.1 L1610.0,765.9 L1611.0,768.2 L1612.0,770.3 L1613.0,771.4 L1614.0,767.3 L1615.0,769.7 L1616.0,770.8 L1617.0,766.0" stroke="#045e98" stroke-width="7.0"/><path d="M277.0,316.3 L278.0,316.9 L279.0,320.2 L280.0,313.6 L281.0,313.9 L282.0,302.6 L283.0,305.7 L284.0,305.4 L285.0,309.8 L286.0,308.3 L287.0,307.2 L288.0,305.7 L289.0,302.1 L290.0,297.1 L291.0,299.6 L292.0,310.3 L293.0,306.0 L294.0,312.1 L295.0,310.9 L296.0,311.7 L297.0,307.6 L298.0,309.3 L299.0,309.2 L300.0,314.7 L301.0,319.8 L302.0,318.7 L303.0,319.7 L304.0,312.9 L305.0,310.0 L306.0,313.3 L307.0,314.3 L308.0,314.6 L309.0,312.5 L310.0,314.3 L311.0,313.2 L312.0,312.9 L313.0,305.7 L314.0,304.9 L315.0,306.5 L316.0,299.5 L317.0,297.3 L318.0,298.0 L319.0,296.4 L320.0,302.7 L321.0,303.4 L322.0,299.3 L323.0,295.8 L324.0,293.5 L325.0,293.0 L326.0,289.7 L327.0,293.0 L328.0,294.6 L329.0,292.1 L330.0,290.9 L331.0,296.9 L332.0,291.8 L333.0,293.6 L334.0,294.9 L335.0,294.9 L336.0,291.8 L337.0,293.8 L338.0,292.2 L339.0,295.4 L340.0,293.2 L341.0,295.5 L342.0,292.9 L343.0,296.3 L344.0,297.1 L345.0,298.4 L346.0,304.2 L347.0,300.6 L348.0,301.2 L349.0,297.4 L350.0,295.3 L351.0,291.2 L352.0,295.6 L353.0,291.6 L354.0,289.0 L355.0,289.5 L356.0,291.4 L357.0,293.3 L358.0,297.9 L359.0,294.1 L360.0,291.8 L361.0,297.4 L362.0,294.0 L363.0,288.7 L364.0,288.1 L365.0,288.0 L366.0,289.3 L367.0,292.8 L368.0,292.7 L369.0,288.9 L370.0,284.7 L371.0,287.9 L372.0,288.8 L373.0,290.0 L374.0,288.7 L375.0,291.3 L376.0,291.4 L377.0,288.6 L378.0,281.1 L379.0,285.0 L380.0,282.0 L381.0,286.9 L382.0,284.7 L383.0,289.5 L384.0,288.8 L385.0,283.4 L386.0,285.6 L387.0,292.1 L388.0,289.5 L389.0,290.0 L390.0,290.8 L391.0,290.8 L392.0,289.4 L393.0,283.1 L394.0,284.0 L395.0,279.8 L396.0,274.5 L397.0,279.7 L398.0,275.3 L399.0,274.5 L400.0,285.1 L401.0,279.4 L402.0,286.7 L403.0,281.6 L404.0,280.7 L405.0,272.1 L406.0,266.3 L407.0,267.5 L408.0,267.5 L409.0,271.3 L410.0,270.2 L411.0,274.3 L412.0,270.5 L413.0,272.1 L414.0,271.8 L415.0,279.4 L416.0,279.2 L417.0,280.3 L418.0,279.3 L419.0,273.6 L420.0,267.5 L421.0,269.6 L422.0,262.8 L423.0,256.8 L424.0,255.9 L425.0,253.1 L426.0,256.5 L427.0,260.5 L428.0,256.9 L429.0,265.2 L430.0,264.4 L431.0,266.5 L432.0,267.1 L433.0,264.0 L434.0,264.6 L435.0,261.2 L436.0,257.8 L437.0,262.0 L438.0,262.3 L439.0,259.3 L440.0,261.5 L441.0,261.3 L442.0,259.3 L443.0,261.1 L444.0,261.1 L445.0,261.3 L446.0,262.6 L447.0,259.6 L448.0,264.4 L449.0,262.8 L450.0,263.8 L451.0,261.0 L452.0,260.1 L453.0,258.2 L454.0,259.8 L455.0,257.7 L456.0,261.4 L457.0,263.9 L458.0,264.3 L459.0,262.4 L460.0,260.8 L461.0,261.1 L462.0,263.7 L463.0,263.7 L464.0,263.3 L465.0,260.9 L466.0,255.3 L467.0,259.8 L468.0,253.0 L469.0,255.9 L470.0,249.2 L471.0,256.4 L472.0,256.9 L473.0,260.6 L474.0,261.2 L475.0,259.1 L476.0,260.2 L477.0,259.1 L478.0,257.7 L479.0,252.6 L480.0,253.8 L481.0,255.6 L482.0,248.3 L483.0,255.3 L484.0,254.2 L485.0,257.5 L486.0,258.7 L487.0,267.7 L488.0,269.0 L489.0,274.0 L490.0,276.9 L491.0,275.2 L492.0,270.7 L493.0,266.9 L494.0,262.6 L495.0,266.7 L496.0,264.6 L497.0,265.1 L498.0,262.6 L499.0,268.3 L500.0,263.6 L501.0,265.7 L502.0,266.6 L503.0,270.1 L504.0,273.0 L505.0,267.1 L506.0,271.6 L507.0,273.5 L508.0,269.5 L509.0,268.8 L510.0,273.9 L511.0,274.4 L512.0,272.5 L513.0,268.9 L514.0,263.9 L515.0,267.2 L516.0,271.4 L517.0,277.9 L518.0,276.0 L519.0,273.8 L520.0,274.7 L521.0,275.9 L522.0,267.2 L523.0,264.3 L524.0,263.6 L525.0,268.0 L526.0,268.9 L527.0,268.7 L528.0,272.1 L529.0,279.1 L530.0,283.0 L531.0,284.3 L532.0,285.5 L533.0,280.6 L534.0,284.0 L535.0,286.3 L536.0,286.6 L537.0,280.3 L538.0,284.2 L539.0,283.0 L540.0,286.0 L541.0,280.5 L542.0,285.1 L543.0,287.1 L544.0,284.7 L545.0,282.2 L546.0,283.8 L547.0,281.3 L548.0,278.6 L549.0,278.5 L550.0,282.4 L551.0,280.6 L552.0,288.8 L553.0,291.2 L554.0,294.5 L555.0,296.5 L556.0,297.8 L557.0,301.8 L558.0,304.0 L559.0,298.8 L560.0,299.5 L561.0,289.7 L562.0,287.4 L563.0,288.4 L564.0,291.0 L565.0,293.8 L566.0,295.9 L567.0,300.0 L568.0,301.9 L569.0,297.5 L570.0,301.5 L571.0,300.3 L572.0,296.4 L573.0,291.7 L574.0,293.4 L575.0,292.9 L576.0,297.0 L577.0,296.8 L578.0,302.3 L579.0,304.3 L580.0,298.9 L581.0,307.0 L582.0,308.8 L583.0,305.4 L584.0,304.2 L585.0,307.7 L586.0,307.0 L587.0,310.5 L588.0,312.2 L589.0,307.7 L590.0,307.0 L591.0,307.0 L592.0,307.6 L593.0,307.8 L594.0,305.3 L595.0,308.9 L596.0,315.3 L597.0,325.7 L598.0,328.8 L599.0,322.6 L600.0,323.5 L601.0,319.5 L602.0,320.9 L603.0,315.3 L604.0,316.6 L605.0,314.9 L606.0,319.6 L607.0,325.0 L608.0,322.1 L609.0,321.7 L610.0,327.4 L611.0,319.1 L612.0,320.0 L613.0,321.9 L614.0,312.8 L615.0,319.8 L616.0,316.7 L617.0,314.1 L618.0,316.5 L619.0,318.6 L620.0,318.3 L621.0,319.7 L622.0,316.0 L623.0,320.7 L624.0,330.4 L625.0,328.9 L626.0,333.6 L627.0,329.1 L628.0,329.6 L629.0,334.2 L630.0,330.7 L631.0,331.2 L632.0,329.4 L633.0,334.4 L634.0,339.8 L635.0,338.3 L636.0,341.2 L637.0,345.3 L638.0,344.6 L639.0,346.2 L640.0,341.9 L641.0,342.7 L642.0,350.1 L643.0,347.0 L644.0,351.0 L645.0,350.6 L646.0,351.4 L647.0,346.7 L648.0,351.9 L649.0,349.7 L650.0,350.7 L651.0,342.9 L652.0,347.0 L653.0,343.7 L654.0,348.4 L655.0,348.1 L656.0,341.0 L657.0,342.4 L658.0,340.7 L659.0,347.0 L660.0,350.1 L661.0,357.9 L662.0,357.9 L663.0,359.8 L664.0,363.8 L665.0,362.0 L666.0,366.1 L667.0,372.8 L668.0,375.0 L669.0,371.3 L670.0,372.1 L671.0,379.1 L672.0,380.3 L673.0,377.3 L674.0,373.4 L675.0,375.0 L676.0,381.2 L677.0,381.6 L678.0,374.1 L679.0,377.2 L680.0,381.0 L681.0,381.4 L682.0,387.3 L683.0,383.0 L684.0,385.3 L685.0,378.9 L686.0,380.9 L687.0,386.1 L688.0,385.1 L689.0,381.1 L690.0,382.6 L691.0,388.0 L692.0,386.5 L693.0,387.3 L694.0,389.1 L695.0,392.0 L696.0,397.3 L697.0,393.1 L698.0,398.0 L699.0,397.7 L700.0,402.4 L701.0,406.3 L702.0,403.5 L703.0,405.8 L704.0,407.1 L705.0,400.4 L706.0,406.3 L707.0,404.2 L708.0,405.9 L709.0,407.8 L710.0,410.5 L711.0,404.5 L712.0,408.6 L713.0,405.0 L714.0,408.3 L715.0,409.2 L716.0,407.6 L717.0,411.2 L718.0,413.7 L719.0,416.0 L720.0,418.8 L721.0,414.5 L722.0,416.3 L723.0,419.0 L724.0,422.1 L725.0,423.4 L726.0,425.0 L727.0,418.1 L728.0,416.0 L729.0,421.5 L730.0,413.3 L731.0,418.6 L732.0,423.3 L733.0,423.6 L734.0,424.2 L735.0,429.3 L736.0,424.4 L737.0,427.1 L738.0,430.0 L739.0,426.7 L740.0,431.1 L741.0,434.8 L742.0,438.0 L743.0,435.4 L744.0,437.9 L745.0,435.2 L746.0,436.4 L747.0,440.0 L748.0,439.8 L749.0,448.3 L750.0,443.8 L751.0,445.4 L752.0,451.1 L753.0,452.2 L754.0,449.6 L755.0,453.7 L756.0,451.3 L757.0,448.0 L758.0,448.6 L759.0,447.0 L760.0,448.7 L761.0,455.5 L762.0,453.4 L763.0,458.5 L764.0,453.6 L765.0,454.4 L766.0,454.9 L767.0,459.2 L768.0,456.3 L769.0,450.3 L770.0,449.3 L771.0,457.4 L772.0,456.2 L773.0,460.9 L774.0,455.4 L775.0,459.4 L776.0,454.8 L777.0,459.2 L778.0,457.7 L779.0,456.8 L780.0,452.7 L781.0,458.0 L782.0,450.1 L783.0,451.8 L784.0,459.1 L785.0,456.2 L786.0,458.0 L787.0,461.0 L788.0,462.2 L789.0,463.9 L790.0,462.0 L791.0,457.9 L792.0,464.1 L793.0,467.1 L794.0,462.3 L795.0,467.6 L796.0,463.3 L797.0,463.6 L798.0,461.0 L799.0,468.6 L800.0,467.7 L801.0,472.1 L802.0,469.6 L803.0,465.1 L804.0,463.5 L805.0,461.8 L806.0,465.5 L807.0,463.3 L808.0,466.4 L809.0,472.6 L810.0,474.4 L811.0,476.8 L812.0,478.0 L813.0,477.7 L814.0,473.2 L815.0,471.5 L816.0,473.1 L817.0,473.3 L818.0,469.9 L819.0,470.6 L820.0,473.2 L821.0,466.3 L822.0,467.0 L823.0,470.0 L824.0,471.3 L825.0,475.4 L826.0,473.6 L827.0,476.0 L828.0,475.3 L829.0,479.8 L830.0,481.6 L831.0,477.6 L832.0,476.6 L833.0,478.5 L834.0,479.9 L835.0,485.1 L836.0,480.6 L837.0,484.5 L838.0,485.2 L839.0,486.1 L840.0,477.4 L841.0,481.2 L842.0,475.9 L843.0,475.2 L844.0,481.0 L845.0,484.0 L846.0,483.1 L847.0,481.3 L848.0,491.9 L849.0,489.7 L850.0,494.5 L851.0,494.7 L852.0,490.2 L853.0,490.9 L854.0,489.7 L855.0,486.5 L856.0,485.1 L857.0,489.5 L858.0,485.7 L859.0,490.6 L860.0,484.9 L861.0,487.5 L862.0,487.0 L863.0,492.9 L864.0,491.1 L865.0,491.5 L866.0,487.7 L867.0,484.7 L868.0,487.7 L869.0,486.5 L870.0,485.2 L871.0,491.7 L872.0,491.4 L873.0,492.2 L874.0,498.3 L875.0,501.3 L876.0,500.8 L877.0,496.2 L878.0,492.6 L879.0,500.1 L880.0,496.5 L881.0,502.0 L882.0,500.1 L883.0,507.6 L884.0,503.7 L885.0,502.7 L886.0,500.6 L887.0,501.4 L888.0,503.4 L889.0,497.2 L890.0,493.8 L891.0,497.2 L892.0,501.4 L893.0,497.6 L894.0,500.5 L895.0,505.6 L896.0,503.4 L897.0,510.1 L898.0,510.4 L899.0,504.3 L900.0,500.6 L901.0,505.1 L902.0,498.3 L903.0,497.7 L904.0,501.3 L905.0,498.1 L906.0,497.1 L907.0,497.3 L908.0,503.1 L909.0,501.0 L910.0,504.8 L911.0,506.3 L912.0,504.1 L913.0,499.3 L914.0,499.0 L915.0,503.3 L916.0,503.7 L917.0,498.5 L918.0,506.2 L919.0,500.5 L920.0,502.3 L921.0,503.2 L922.0,507.8 L923.0,506.4 L924.0,505.6 L925.0,496.9 L926.0,498.5 L927.0,495.6 L928.0,501.7 L929.0,501.1 L930.0,504.1 L931.0,500.2 L932.0,504.6 L933.0,498.3 L934.0,502.5 L935.0,498.7 L936.0,500.7 L937.0,501.2 L938.0,500.0 L939.0,504.2 L940.0,505.5 L941.0,501.1 L942.0,502.4 L943.0,509.2 L944.0,505.2 L945.0,509.8 L946.0,512.0 L947.0,515.9 L948.0,508.0 L949.0,511.2 L950.0,510.8 L951.0,508.9 L952.0,501.1 L953.0,507.4 L954.0,500.4 L955.0,505.5 L956.0,504.5 L957.0,503.0 L958.0,507.1 L959.0,508.1 L960.0,507.6 L961.0,513.3 L962.0,513.9 L963.0,515.2 L964.0,514.1 L965.0,515.2 L966.0,509.5 L967.0,510.5 L968.0,504.5 L969.0,509.2 L970.0,507.2 L971.0,511.1 L972.0,507.8 L973.0,515.2 L974.0,518.2 L975.0,512.8 L976.0,511.1 L977.0,515.2 L978.0,511.8 L979.0,506.1 L980.0,510.5 L981.0,508.5 L982.0,505.7 L983.0,509.0 L984.0,506.7 L985.0,508.3 L986.0,507.3 L987.0,513.9 L988.0,514.4 L989.0,517.0 L990.0,516.2 L991.0,516.4 L992.0,516.1 L993.0,520.6 L994.0,518.3 L995.0,519.9 L996.0,520.9 L997.0,517.9 L998.0,519.6 L999.0,513.2 L1000.0,513.8 L1001.0,517.5 L1002.0,510.5 L1003.0,509.8 L1004.0,509.6 L1005.0,515.9 L1006.0,510.5 L1007.0,512.8 L1008.0,512.0 L1009.0,514.4 L1010.0,511.1 L1011.0,512.9 L1012.0,510.2 L1013.0,518.2 L1014.0,519.4 L1015.0,517.9 L1016.0,519.4 L1017.0,517.3 L1018.0,517.8 L1019.0,519.9 L1020.0,519.0 L1021.0,514.9 L1022.0,523.1 L1023.0,522.8 L1024.0,515.0 L1025.0,512.6 L1026.0,513.6 L1027.0,512.4 L1028.0,515.5 L1029.0,513.9 L1030.0,515.8 L1031.0,513.7 L1032.0,517.1 L1033.0,515.8 L1034.0,519.1 L1035.0,516.1 L1036.0,514.0 L1037.0,520.6 L1038.0,520.3 L1039.0,519.1 L1040.0,515.7 L1041.0,517.8 L1042.0,518.7 L1043.0,519.0 L1044.0,516.4 L1045.0,520.7 L1046.0,524.0 L1047.0,523.7 L1048.0,525.4 L1049.0,524.3 L1050.0,524.9 L1051.0,527.5 L1052.0,529.5 L1053.0,530.1 L1054.0,528.7 L1055.0,530.3 L1056.0,529.9 L1057.0,531.4 L1058.0,529.6 L1059.0,526.1 L1060.0,522.8 L1061.0,523.0 L1062.0,521.5 L1063.0,527.2 L1064.0,530.0 L1065.0,527.2 L1066.0,532.2 L1067.0,534.9 L1068.0,531.2 L1069.0,529.1 L1070.0,533.6 L1071.0,533.0 L1072.0,532.6 L1073.0,535.3 L1074.0,534.4 L1075.0,534.3 L1076.0,535.2 L1077.0,531.2 L1078.0,528.9 L1079.0,533.5 L1080.0,537.0 L1081.0,536.1 L1082.0,531.9 L1083.0,536.6 L1084.0,529.2 L1085.0,529.4 L1086.0,527.9 L1087.0,529.2 L1088.0,534.5 L1089.0,536.8 L1090.0,535.7 L1091.0,539.2 L1092.0,537.1 L1093.0,541.9 L1094.0,540.1 L1095.0,539.7 L1096.0,536.9 L1097.0,539.2 L1098.0,539.5 L1099.0,542.8 L1100.0,538.0 L1101.0,538.7 L1102.0,543.1 L1103.0,538.1 L1104.0,543.1 L1105.0,541.5 L1106.0,546.3 L1107.0,545.6 L1108.0,541.3 L1109.0,546.5 L1110.0,543.6 L1111.0,543.4 L1112.0,548.3 L1113.0,548.1 L1114.0,544.6 L1115.0,546.9 L1116.0,541.5 L1117.0,544.1 L1118.0,539.6 L1119.0,545.4 L1120.0,548.8 L1121.0,547.6 L1122.0,543.8 L1123.0,546.7 L1124.0,545.3 L1125.0,544.1 L1126.0,540.7 L1127.0,542.0 L1128.0,543.7 L1129.0,540.7 L1130.0,546.0 L1131.0,543.4 L1132.0,544.8 L1133.0,545.2 L1134.0,549.0 L1135.0,557.1 L1136.0,554.7 L1137.0,556.0 L1138.0,561.0 L1139.0,566.1 L1140.0,559.1 L1141.0,561.3 L1142.0,560.4 L1143.0,563.1 L1144.0,559.9 L1145.0,555.4 L1146.0,560.4 L1147.0,555.3 L1148.0,557.6 L1149.0,555.0 L1150.0,557.9 L1151.0,551.7 L1152.0,553.6 L1153.0,554.7 L1154.0,555.4 L1155.0,560.9 L1156.0,559.1 L1157.0,558.6 L1158.0,560.8 L1159.0,564.0 L1160.0,562.0 L1161.0,561.4 L1162.0,563.5 L1163.0,562.3 L1164.0,559.8 L1165.0,559.2 L1166.0,556.0 L1167.0,559.4 L1168.0,563.9 L1169.0,559.4 L1170.0,560.2 L1171.0,561.6 L1172.0,560.9 L1173.0,556.9 L1174.0,558.5 L1175.0,560.9 L1176.0,555.1 L1177.0,555.6 L1178.0,560.9 L1179.0,561.5 L1180.0,553.9 L1181.0,553.4 L1182.0,557.3 L1183.0,555.2 L1184.0,559.2 L1185.0,555.0 L1186.0,559.5 L1187.0,555.7 L1188.0,555.8 L1189.0,557.5 L1190.0,554.7 L1191.0,558.8 L1192.0,559.9 L1193.0,559.4 L1194.0,562.5 L1195.0,558.8 L1196.0,563.1 L1197.0,563.7 L1198.0,568.0 L1199.0,562.8 L1200.0,568.3 L1201.0,563.1 L1202.0,565.7 L1203.0,568.6 L1204.0,570.2 L1205.0,567.2 L1206.0,572.7 L1207.0,572.5 L1208.0,564.0 L1209.0,567.8 L1210.0,566.3 L1211.0,565.2 L1212.0,564.9 L1213.0,565.2 L1214.0,568.4 L1215.0,573.8 L1216.0,570.5 L1217.0,570.4 L1218.0,574.5 L1219.0,572.1 L1220.0,572.7 L1221.0,570.5 L1222.0,568.2 L1223.0,566.8 L1224.0,574.0 L1225.0,573.4 L1226.0,570.5 L1227.0,575.4 L1228.0,578.8 L1229.0,580.9 L1230.0,586.9 L1231.0,583.0 L1232.0,576.1 L1233.0,573.5 L1234.0,572.8 L1235.0,569.0 L1236.0,575.2 L1237.0,567.8 L1238.0,571.4 L1239.0,569.5 L1240.0,571.6 L1241.0,567.9 L1242.0,569.7 L1243.0,576.8 L1244.0,575.9 L1245.0,572.0 L1246.0,574.6 L1247.0,571.3 L1248.0,572.2 L1249.0,572.9 L1250.0,579.6 L1251.0,575.1 L1252.0,575.7 L1253.0,575.3 L1254.0,576.8 L1255.0,584.2 L1256.0,582.4 L1257.0,584.1 L1258.0,583.6 L1259.0,582.5 L1260.0,577.5 L1261.0,576.1 L1262.0,576.3 L1263.0,575.0 L1264.0,576.4 L1265.0,581.3 L1266.0,579.9 L1267.0,575.4 L1268.0,577.3 L1269.0,581.2 L1270.0,580.3 L1271.0,579.2 L1272.0,579.1 L1273.0,580.6 L1274.0,577.5 L1275.0,576.8 L1276.0,579.0 L1277.0,577.3 L1278.0,575.9 L1279.0,579.1 L1280.0,582.0 L1281.0,580.5 L1282.0,581.5 L1283.0,582.4 L1284.0,582.6 L1285.0,586.6 L1286.0,581.8 L1287.0,585.0 L1288.0,584.5 L1289.0,583.5 L1290.0,581.5 L1291.0,581.9 L1292.0,581.1 L1293.0,583.5 L1294.0,585.1 L1295.0,583.2 L1296.0,577.8 L1297.0,576.5 L1298.0,575.8 L1299.0,584.1 L1300.0,584.6 L1301.0,585.0 L1302.0,589.6 L1303.0,586.9 L1304.0,584.6 L1305.0,586.2 L1306.0,583.4 L1307.0,581.0 L1308.0,584.9 L1309.0,580.6 L1310.0,586.6 L1311.0,580.4 L1312.0,584.7 L1313.0,586.0 L1314.0,586.6 L1315.0,586.1 L1316.0,590.9 L1317.0,590.5 L1318.0,592.6 L1319.0,586.6 L1320.0,586.4 L1321.0,587.7 L1322.0,587.2 L1323.0,583.0 L1324.0,587.9 L1325.0,584.1 L1326.0,584.7 L1327.0,586.2 L1328.0,589.9 L1329.0,586.6 L1330.0,589.8 L1331.0,590.8 L1332.0,591.9 L1333.0,589.8 L1334.0,590.2 L1335.0,590.7 L1336.0,590.7 L1337.0,590.0 L1338.0,584.8 L1339.0,587.4 L1340.0,588.5 L1341.0,585.7 L1342.0,585.1 L1343.0,593.4 L1344.0,587.4 L1345.0,592.8 L1346.0,592.6 L1347.0,590.7 L1348.0,592.9 L1349.0,592.2 L1350.0,594.4 L1351.0,598.8 L1352.0,592.2 L1353.0,594.8 L1354.0,597.9 L1355.0,596.1 L1356.0,589.9 L1357.0,590.4 L1358.0,589.6 L1359.0,595.8 L1360.0,593.1 L1361.0,592.7 L1362.0,595.7 L1363.0,596.0 L1364.0,593.5 L1365.0,598.1 L1366.0,598.8 L1367.0,595.0 L1368.0,593.8 L1369.0,594.1 L1370.0,593.9 L1371.0,593.9 L1372.0,592.0 L1373.0,598.7 L1374.0,602.8 L1375.0,599.3 L1376.0,601.5 L1377.0,598.1 L1378.0,599.2 L1379.0,598.9 L1380.0,599.1 L1381.0,600.9 L1382.0,598.8 L1383.0,601.2 L1384.0,603.6 L1385.0,602.1 L1386.0,607.6 L1387.0,605.9 L1388.0,599.5 L1389.0,603.5 L1390.0,597.4 L1391.0,598.9 L1392.0,598.5 L1393.0,599.5 L1394.0,599.2 L1395.0,597.4 L1396.0,601.9 L1397.0,598.6 L1398.0,600.3 L1399.0,604.5 L1400.0,599.7 L1401.0,603.7 L1402.0,606.4 L1403.0,599.5 L1404.0,605.6 L1405.0,604.9 L1406.0,604.4 L1407.0,605.8 L1408.0,605.8 L1409.0,599.3 L1410.0,601.5 L1411.0,602.0 L1412.0,602.1 L1413.0,603.7 L1414.0,601.9 L1415.0,602.4 L1416.0,596.3 L1417.0,599.6 L1418.0,603.8 L1419.0,604.1 L1420.0,602.5 L1421.0,599.0 L1422.0,602.6 L1423.0,600.5 L1424.0,601.6 L1425.0,601.2 L1426.0,603.0 L1427.0,602.7 L1428.0,605.9 L1429.0,602.9 L1430.0,603.9 L1431.0,605.0 L1432.0,603.9 L1433.0,599.3 L1434.0,606.5 L1435.0,601.9 L1436.0,604.0 L1437.0,600.9 L1438.0,602.8 L1439.0,608.4 L1440.0,602.4 L1441.0,602.0 L1442.0,605.7 L1443.0,601.2 L1444.0,604.8 L1445.0,604.2 L1446.0,607.1 L1447.0,604.4 L1448.0,604.0 L1449.0,604.2 L1450.0,605.9 L1451.0,602.9 L1452.0,604.0 L1453.0,604.3 L1454.0,605.7 L1455.0,610.8 L1456.0,613.6 L1457.0,610.1 L1458.0,610.6 L1459.0,609.2 L1460.0,610.2 L1461.0,607.2 L1462.0,602.5 L1463.0,606.8 L1464.0,605.8 L1465.0,605.7 L1466.0,612.0 L1467.0,606.3 L1468.0,608.9 L1469.0,611.4 L1470.0,609.4 L1471.0,611.0 L1472.0,605.4 L1473.0,609.5 L1474.0,601.3 L1475.0,610.4 L1476.0,608.6 L1477.0,607.2 L1478.0,611.4 L1479.0,617.2 L1480.0,614.8 L1481.0,614.8 L1482.0,615.2 L1483.0,606.9 L1484.0,607.7 L1485.0,607.3 L1486.0,609.3 L1487.0,611.9 L1488.0,608.4 L1489.0,617.9 L1490.0,617.0 L1491.0,615.6 L1492.0,614.3 L1493.0,617.5 L1494.0,618.6 L1495.0,616.6 L1496.0,614.0 L1497.0,617.7 L1498.0,612.4 L1499.0,613.2 L1500.0,619.3 L1501.0,617.1 L1502.0,620.8 L1503.0,616.9 L1504.0,616.7 L1505.0,621.7 L1506.0,617.3 L1507.0,615.4 L1508.0,615.5 L1509.0,614.4 L1510.0,612.1 L1511.0,612.4 L1512.0,612.2 L1513.0,613.0 L1514.0,615.5 L1515.0,617.3 L1516.0,613.5 L1517.0,618.4 L1518.0,615.1 L1519.0,613.6 L1520.0,613.7 L1521.0,614.6 L1522.0,611.6 L1523.0,616.5 L1524.0,613.0 L1525.0,609.1 L1526.0,608.8 L1527.0,617.7 L1528.0,617.5 L1529.0,617.5 L1530.0,623.3 L1531.0,617.1 L1532.0,623.4 L1533.0,623.1 L1534.0,620.1 L1535.0,616.4 L1536.0,620.9 L1537.0,625.6 L1538.0,624.9 L1539.0,621.7 L1540.0,621.8 L1541.0,620.4 L1542.0,624.1 L1543.0,620.6 L1544.0,622.2 L1545.0,625.2 L1546.0,624.6 L1547.0,621.4 L1548.0,624.0 L1549.0,618.8 L1550.0,625.6 L1551.0,627.1 L1552.0,626.2 L1553.0,631.7 L1554.0,629.0 L1555.0,634.8 L1556.0,629.5 L1557.0,634.6 L1558.0,634.1 L1559.0,634.2 L1560.0,631.9 L1561.0,625.9 L1562.0,627.0 L1563.0,629.3 L1564.0,630.6 L1565.0,628.0 L1566.0,622.0 L1567.0,624.2 L1568.0,623.8 L1569.0,622.1 L1570.0,622.2 L1571.0,625.3 L1572.0,624.8 L1573.0,624.6 L1574.0,626.6 L1575.0,632.9 L1576.0,632.0 L1577.0,635.2 L1578.0,638.7 L1579.0,630.5 L1580.0,636.6 L1581.0,629.3 L1582.0,629.3 L1583.0,633.3 L1584.0,633.0 L1585.0,631.4 L1586.0,629.8 L1587.0,631.2 L1588.0,628.2 L1589.0,625.4 L1590.0,624.8 L1591.0,625.0 L1592.0,625.6 L1593.0,634.2 L1594.0,635.4 L1595.0,629.5 L1596.0,629.0 L1597.0,627.0 L1598.0,630.2 L1599.0,628.5 L1600.0,626.6 L1601.0,633.2 L1602.0,634.2 L1603.0,627.6 L1604.0,631.5 L1605.0,630.2 L1606.0,634.2 L1607.0,632.1 L1608.0,631.9 L1609.0,632.4 L1610.0,635.2 L1611.0,633.7 L1612.0,632.9 L1613.0,633.7 L1614.0,631.3 L1615.0,634.9 L1616.0,630.4 L1617.0,633.0" stroke="#df0000" stroke-width="7.0"/><path d="M277.0,182.1 L278.0,174.3 L279.0,169.9 L280.0,169.4 L281.0,167.2 L282.0,161.6 L283.0,159.9 L284.0,159.8 L285.0,166.7 L286.0,171.9 L287.0,174.6 L288.0,178.2 L289.0,182.3 L290.0,183.3 L291.0,185.4 L292.0,182.5 L293.0,179.0 L294.0,175.6 L295.0,175.3 L296.0,168.8 L297.0,165.5 L298.0,164.2 L299.0,167.0 L300.0,171.8 L301.0,168.5 L302.0,175.4 L303.0,177.7 L304.0,178.9 L305.0,178.7 L306.0,172.3 L307.0,173.2 L308.0,164.0 L309.0,159.6 L310.0,161.8 L311.0,167.0 L312.0,168.3 L313.0,174.4 L314.0,178.1 L315.0,178.5 L316.0,178.9 L317.0,179.0 L318.0,175.6 L319.0,172.6 L320.0,169.4 L321.0,167.6 L322.0,163.1 L323.0,160.2 L324.0,158.1 L325.0,159.4 L326.0,155.3 L327.0,155.8 L328.0,156.0 L329.0,160.8 L330.0,156.9 L331.0,157.3 L332.0,158.0 L333.0,159.4 L334.0,159.8 L335.0,159.2 L336.0,158.9 L337.0,155.6 L338.0,160.8 L339.0,157.5 L340.0,153.1 L341.0,151.2 L342.0,153.5 L343.0,150.9 L344.0,155.7 L345.0,158.6 L346.0,155.4 L347.0,159.5 L348.0,160.7 L349.0,167.9 L350.0,163.0 L351.0,159.0 L352.0,157.7 L353.0,151.2 L354.0,151.3 L355.0,147.4 L356.0,148.5 L357.0,146.2 L358.0,148.2 L359.0,144.0 L360.0,143.5 L361.0,151.7 L362.0,148.4 L363.0,154.6 L364.0,154.4 L365.0,151.9 L366.0,149.9 L367.0,147.3 L368.0,150.2 L369.0,143.0 L370.0,150.0 L371.0,148.1 L372.0,146.1 L373.0,146.3 L374.0,145.3 L375.0,145.0 L376.0,144.3 L377.0,139.1 L378.0,136.0 L379.0,137.3 L380.0,142.6 L381.0,140.4 L382.0,138.5 L383.0,141.2 L384.0,135.9 L385.0,136.1 L386.0,136.7 L387.0,134.1 L388.0,131.1 L389.0,131.0 L390.0,126.9 L391.0,128.2 L392.0,125.4 L393.0,119.7 L394.0,122.6 L395.0,120.9 L396.0,126.8 L397.0,125.9 L398.0,125.8 L399.0,122.0 L400.0,125.1 L401.0,119.3 L402.0,114.8 L403.0,121.3 L404.0,115.7 L405.0,116.4 L406.0,117.4 L407.0,123.3 L408.0,123.9 L409.0,124.5 L410.0,129.2 L411.0,123.1 L412.0,118.5 L413.0,121.9 L414.0,112.6 L415.0,115.7 L416.0,120.5 L417.0,128.7 L418.0,126.9 L419.0,124.9 L420.0,123.5 L421.0,122.0 L422.0,123.4 L423.0,120.1 L424.0,115.0 L425.0,111.9 L426.0,114.3 L427.0,111.3 L428.0,109.7 L429.0,106.4 L430.0,111.2 L431.0,106.8 L432.0,109.1 L433.0,108.0 L434.0,108.5 L435.0,106.9 L436.0,116.8 L437.0,119.5 L438.0,116.7 L439.0,114.3 L440.0,116.4 L441.0,112.8 L442.0,105.6 L443.0,115.1 L444.0,111.6 L445.0,118.6 L446.0,121.3 L447.0,119.3 L448.0,121.0 L449.0,118.4 L450.0,120.0 L451.0,119.1 L452.0,112.4 L453.0,113.9 L454.0,115.0 L455.0,114.0 L456.0,117.3 L457.0,113.9 L458.0,115.4 L459.0,119.4 L460.0,118.0 L461.0,118.8 L462.0,121.3 L463.0,123.5 L464.0,124.9 L465.0,123.8 L466.0,121.7 L467.0,120.9 L468.0,123.9 L469.0,123.5 L470.0,123.5 L471.0,120.7 L472.0,115.5 L473.0,108.7 L474.0,110.2 L475.0,110.2 L476.0,113.5 L477.0,117.5 L478.0,117.8 L479.0,122.1 L480.0,121.4 L481.0,122.9 L482.0,125.5 L483.0,128.1 L484.0,126.7 L485.0,123.4 L486.0,125.8 L487.0,124.7 L488.0,125.7 L489.0,127.5 L490.0,127.9 L491.0,126.2 L492.0,131.8 L493.0,128.3 L494.0,128.2 L495.0,128.8 L496.0,129.0 L497.0,130.9 L498.0,127.2 L499.0,128.5 L500.0,132.9 L501.0,133.2 L502.0,130.6 L503.0,133.9 L504.0,136.4 L505.0,143.3 L506.0,144.1 L507.0,136.5 L508.0,138.8 L509.0,138.9 L510.0,137.7 L511.0,141.2 L512.0,148.8 L513.0,150.5 L514.0,147.9 L515.0,152.8 L516.0,148.6 L517.0,153.0 L518.0,149.6 L519.0,154.1 L520.0,154.0 L521.0,157.3 L522.0,154.5 L523.0,156.6 L524.0,151.2 L525.0,153.7 L526.0,150.2 L527.0,152.5 L528.0,162.4 L529.0,157.5 L530.0,162.2 L531.0,158.9 L532.0,155.0 L533.0,156.9 L534.0,153.1 L535.0,151.2 L536.0,154.4 L537.0,158.3 L538.0,154.3 L539.0,160.5 L540.0,163.6 L541.0,163.4 L542.0,164.5 L543.0,165.6 L544.0,168.1 L545.0,171.4 L546.0,175.9 L547.0,179.3 L548.0,186.8 L549.0,183.9 L550.0,185.4 L551.0,190.1 L552.0,187.2 L553.0,184.2 L554.0,189.2 L555.0,180.9 L556.0,181.0 L557.0,178.8 L558.0,178.4 L559.0,176.9 L560.0,182.7 L561.0,180.7 L562.0,179.4 L563.0,182.6 L564.0,181.6 L565.0,183.8 L566.0,184.9 L567.0,182.6 L568.0,187.5 L569.0,182.0 L570.0,188.6 L571.0,187.7 L572.0,191.2 L573.0,191.1 L574.0,197.0 L575.0,196.0 L576.0,197.7 L577.0,197.9 L578.0,193.1 L579.0,195.4 L580.0,204.1 L581.0,201.4 L582.0,208.0 L583.0,208.0 L584.0,208.0 L585.0,201.8 L586.0,206.2 L587.0,209.0 L588.0,204.1 L589.0,205.1 L590.0,212.9 L591.0,212.5 L592.0,213.7 L593.0,215.3 L594.0,215.3 L595.0,214.1 L596.0,214.3 L597.0,213.4 L598.0,218.5 L599.0,221.0 L600.0,225.9 L601.0,222.8 L602.0,224.6 L603.0,226.2 L604.0,230.4 L605.0,225.1 L606.0,229.8 L607.0,226.8 L608.0,226.5 L609.0,220.7 L610.0,225.4 L611.0,222.9 L612.0,226.0 L613.0,221.3 L614.0,223.7 L615.0,228.3 L616.0,228.8 L617.0,233.4 L618.0,232.8 L619.0,234.2 L620.0,237.3 L621.0,235.3 L622.0,240.4 L623.0,237.9 L624.0,239.6 L625.0,242.5 L626.0,246.4 L627.0,245.4 L628.0,251.7 L629.0,247.3 L630.0,251.5 L631.0,254.5 L632.0,250.9 L633.0,251.5 L634.0,254.5 L635.0,257.7 L636.0,258.1 L637.0,258.2 L638.0,257.2 L639.0,255.2 L640.0,264.1 L641.0,260.9 L642.0,262.3 L643.0,266.6 L644.0,263.6 L645.0,264.5 L646.0,266.2 L647.0,272.9 L648.0,268.4 L649.0,273.5 L650.0,274.9 L651.0,271.0 L652.0,271.5 L653.0,273.7 L654.0,278.3 L655.0,279.4 L656.0,277.3 L657.0,281.4 L658.0,276.8 L659.0,275.9 L660.0,277.7 L661.0,279.3 L662.0,280.1 L663.0,282.5 L664.0,284.9 L665.0,288.2 L666.0,288.5 L667.0,286.5 L668.0,283.0 L669.0,286.1 L670.0,288.0 L671.0,291.6 L672.0,293.7 L673.0,299.5 L674.0,305.0 L675.0,307.7 L676.0,305.9 L677.0,305.2 L678.0,308.2 L679.0,310.2 L680.0,304.9 L681.0,313.9 L682.0,310.9 L683.0,309.6 L684.0,312.7 L685.0,312.4 L686.0,312.3 L687.0,317.3 L688.0,313.1 L689.0,310.3 L690.0,313.8 L691.0,311.5 L692.0,314.1 L693.0,316.1 L694.0,317.0 L695.0,322.0 L696.0,320.0 L697.0,326.5 L698.0,325.8 L699.0,325.4 L700.0,324.6 L701.0,328.8 L702.0,323.6 L703.0,326.9 L704.0,327.7 L705.0,328.6 L706.0,329.8 L707.0,335.4 L708.0,337.2 L709.0,334.3 L710.0,336.0 L711.0,341.2 L712.0,338.1 L713.0,342.2 L714.0,348.1 L715.0,345.7 L716.0,346.8 L717.0,350.0 L718.0,349.3 L719.0,348.8 L720.0,348.4 L721.0,355.6 L722.0,354.2 L723.0,350.1 L724.0,349.2 L725.0,352.3 L726.0,352.5 L727.0,355.3 L728.0,351.1 L729.0,349.1 L730.0,354.3 L731.0,352.5 L732.0,356.6 L733.0,359.9 L734.0,368.6 L735.0,369.3 L736.0,365.1 L737.0,366.9 L738.0,367.5 L739.0,366.6 L740.0,370.2 L741.0,367.6 L742.0,371.6 L743.0,368.8 L744.0,370.0 L745.0,371.5 L746.0,373.0 L747.0,379.5 L748.0,375.1 L749.0,379.0 L750.0,375.1 L751.0,384.0 L752.0,385.8 L753.0,387.8 L754.0,392.8 L755.0,387.0 L756.0,393.4 L757.0,389.6 L758.0,396.3 L759.0,387.7 L760.0,388.2 L761.0,388.2 L762.0,385.8 L763.0,391.0 L764.0,388.5 L765.0,397.2 L766.0,393.6 L767.0,401.4 L768.0,401.1 L769.0,396.7 L770.0,398.1 L771.0,399.1 L772.0,399.6 L773.0,400.7 L774.0,401.7 L775.0,405.3 L776.0,406.5 L777.0,406.1 L778.0,412.8 L779.0,412.3 L780.0,413.7 L781.0,417.8 L782.0,418.1 L783.0,419.1 L784.0,418.0 L785.0,413.8 L786.0,416.7 L787.0,416.1 L788.0,412.9 L789.0,416.4 L790.0,420.1 L791.0,420.4 L792.0,420.9 L793.0,421.8 L794.0,422.0 L795.0,421.6 L796.0,415.3 L797.0,418.4 L798.0,416.6 L799.0,419.5 L800.0,418.8 L801.0,425.1 L802.0,430.4 L803.0,429.6 L804.0,424.2 L805.0,422.1 L806.0,425.0 L807.0,421.8 L808.0,425.2 L809.0,422.4 L810.0,422.6 L811.0,429.6 L812.0,429.4 L813.0,426.9 L814.0,431.9 L815.0,431.7 L816.0,434.2 L817.0,437.9 L818.0,440.3 L819.0,431.6 L820.0,429.0 L821.0,433.1 L822.0,425.0 L823.0,430.3 L824.0,429.1 L825.0,429.1 L826.0,429.8 L827.0,429.9 L828.0,434.8 L829.0,437.3 L830.0,434.2 L831.0,432.8 L832.0,433.1 L833.0,431.6 L834.0,431.8 L835.0,436.0 L836.0,433.0 L837.0,438.7 L838.0,435.4 L839.0,437.9 L840.0,442.4 L841.0,443.8 L842.0,447.2 L843.0,446.5 L844.0,445.7 L845.0,450.7 L846.0,448.1 L847.0,447.1 L848.0,450.0 L849.0,455.2 L850.0,448.6 L851.0,455.4 L852.0,455.0 L853.0,455.5 L854.0,455.9 L855.0,453.7 L856.0,456.4 L857.0,460.8 L858.0,460.3 L859.0,456.5 L860.0,455.9 L861.0,454.7 L862.0,453.2 L863.0,453.7 L864.0,452.9 L865.0,458.4 L866.0,452.3 L867.0,453.5 L868.0,457.2 L869.0,459.2 L870.0,458.4 L871.0,454.8 L872.0,457.6 L873.0,461.4 L874.0,460.8 L875.0,457.7 L876.0,464.6 L877.0,466.2 L878.0,461.7 L879.0,466.7 L880.0,462.1 L881.0,461.0 L882.0,463.6 L883.0,465.5 L884.0,461.3 L885.0,455.2 L886.0,457.5 L887.0,455.9 L888.0,461.7 L889.0,462.3 L890.0,465.4 L891.0,463.0 L892.0,462.8 L893.0,461.2 L894.0,462.3 L895.0,459.3 L896.0,461.9 L897.0,459.5 L898.0,456.5 L899.0,462.4 L900.0,466.4 L901.0,465.4 L902.0,467.5 L903.0,469.0 L904.0,466.5 L905.0,466.3 L906.0,468.4 L907.0,465.5 L908.0,468.0 L909.0,467.8 L910.0,467.9 L911.0,467.1 L912.0,467.2 L913.0,468.0 L914.0,468.0 L915.0,465.5 L916.0,467.9 L917.0,466.0 L918.0,466.8 L919.0,466.5 L920.0,462.9 L921.0,460.9 L922.0,461.1 L923.0,462.4 L924.0,461.8 L925.0,466.8 L926.0,471.8 L927.0,465.5 L928.0,467.9 L929.0,464.2 L930.0,466.4 L931.0,469.0 L932.0,470.4 L933.0,470.5 L934.0,467.6 L935.0,471.7 L936.0,466.1 L937.0,469.9 L938.0,467.6 L939.0,472.2 L940.0,470.5 L941.0,476.5 L942.0,476.1 L943.0,473.1 L944.0,479.1 L945.0,473.5 L946.0,476.9 L947.0,476.1 L948.0,474.9 L949.0,474.4 L950.0,476.2 L951.0,473.5 L952.0,468.3 L953.0,471.1 L954.0,473.1 L955.0,473.2 L956.0,471.8 L957.0,473.7 L958.0,476.4 L959.0,476.0 L960.0,470.2 L961.0,471.2 L962.0,471.3 L963.0,469.5 L964.0,475.1 L965.0,475.8 L966.0,474.4 L967.0,478.5 L968.0,483.0 L969.0,481.2 L970.0,481.1 L971.0,483.4 L972.0,485.4 L973.0,482.1 L974.0,485.7 L975.0,484.6 L976.0,479.3 L977.0,481.9 L978.0,477.6 L979.0,481.5 L980.0,479.1 L981.0,478.3 L982.0,480.4 L983.0,481.1 L984.0,475.9 L985.0,480.3 L986.0,476.7 L987.0,478.3 L988.0,478.7 L989.0,478.6 L990.0,476.3 L991.0,475.5 L992.0,476.6 L993.0,481.3 L994.0,478.1 L995.0,474.9 L996.0,479.1 L997.0,479.1 L998.0,477.6 L999.0,480.0 L1000.0,480.8 L1001.0,480.5 L1002.0,476.6 L1003.0,480.6 L1004.0,482.4 L1005.0,479.7 L1006.0,482.8 L1007.0,479.7 L1008.0,483.0 L1009.0,483.1 L1010.0,480.8 L1011.0,478.7 L1012.0,482.4 L1013.0,480.3 L1014.0,479.4 L1015.0,481.0 L1016.0,479.7 L1017.0,484.6 L1018.0,477.8 L1019.0,485.3 L1020.0,484.0 L1021.0,482.8 L1022.0,490.3 L1023.0,486.6 L1024.0,484.6 L1025.0,488.0 L1026.0,486.3 L1027.0,484.9 L1028.0,482.8 L1029.0,480.3 L1030.0,484.2 L1031.0,478.7 L1032.0,478.5 L1033.0,481.4 L1034.0,483.1 L1035.0,482.2 L1036.0,487.9 L1037.0,488.9 L1038.0,488.5 L1039.0,490.7 L1040.0,491.2 L1041.0,485.8 L1042.0,486.2 L1043.0,491.3 L1044.0,487.1 L1045.0,491.5 L1046.0,490.3 L1047.0,490.3 L1048.0,491.2 L1049.0,492.2 L1050.0,493.6 L1051.0,493.3 L1052.0,490.9 L1053.0,491.7 L1054.0,493.4 L1055.0,496.4 L1056.0,490.6 L1057.0,488.0 L1058.0,488.6 L1059.0,489.6 L1060.0,494.9 L1061.0,495.9 L1062.0,491.8 L1063.0,493.0 L1064.0,493.1 L1065.0,489.3 L1066.0,492.4 L1067.0,491.8 L1068.0,486.7 L1069.0,488.7 L1070.0,493.5 L1071.0,494.4 L1072.0,489.0 L1073.0,490.1 L1074.0,494.3 L1075.0,492.0 L1076.0,490.6 L1077.0,494.1 L1078.0,494.1 L1079.0,489.5 L1080.0,492.6 L1081.0,493.3 L1082.0,491.6 L1083.0,491.2 L1084.0,495.7 L1085.0,489.7 L1086.0,489.6 L1087.0,493.4 L1088.0,491.6 L1089.0,493.3 L1090.0,495.9 L1091.0,497.0 L1092.0,499.9 L1093.0,495.4 L1094.0,495.6 L1095.0,498.7 L1096.0,498.4 L1097.0,496.7 L1098.0,497.3 L1099.0,502.6 L1100.0,503.9 L1101.0,501.7 L1102.0,502.7 L1103.0,502.1 L1104.0,503.8 L1105.0,507.3 L1106.0,506.0 L1107.0,507.5 L1108.0,507.8 L1109.0,506.5 L1110.0,504.3 L1111.0,504.5 L1112.0,503.5 L1113.0,509.3 L1114.0,505.1 L1115.0,508.4 L1116.0,505.4 L1117.0,504.7 L1118.0,508.6 L1119.0,505.9 L1120.0,511.5 L1121.0,509.5 L1122.0,509.1 L1123.0,509.3 L1124.0,512.2 L1125.0,510.1 L1126.0,510.4 L1127.0,515.1 L1128.0,513.9 L1129.0,511.0 L1130.0,516.5 L1131.0,513.1 L1132.0,510.7 L1133.0,509.2 L1134.0,511.4 L1135.0,507.8 L1136.0,511.5 L1137.0,508.7 L1138.0,510.8 L1139.0,511.7 L1140.0,508.5 L1141.0,506.7 L1142.0,509.1 L1143.0,511.1 L1144.0,507.6 L1145.0,510.9 L1146.0,510.6 L1147.0,513.0 L1148.0,508.5 L1149.0,508.8 L1150.0,508.2 L1151.0,512.7 L1152.0,510.7 L1153.0,510.7 L1154.0,508.9 L1155.0,512.3 L1156.0,508.7 L1157.0,507.8 L1158.0,513.5 L1159.0,510.8 L1160.0,511.2 L1161.0,511.2 L1162.0,516.3 L1163.0,517.7 L1164.0,513.0 L1165.0,514.3 L1166.0,518.7 L1167.0,519.1 L1168.0,522.6 L1169.0,519.0 L1170.0,523.6 L1171.0,518.9 L1172.0,521.6 L1173.0,521.8 L1174.0,520.1 L1175.0,520.3 L1176.0,516.9 L1177.0,521.4 L1178.0,514.7 L1179.0,518.2 L1180.0,517.7 L1181.0,521.1 L1182.0,521.3 L1183.0,525.0 L1184.0,524.2 L1185.0,526.0 L1186.0,524.0 L1187.0,518.7 L1188.0,522.8 L1189.0,517.4 L1190.0,520.1 L1191.0,520.8 L1192.0,519.4 L1193.0,526.1 L1194.0,526.0 L1195.0,522.0 L1196.0,517.9 L1197.0,514.9 L1198.0,511.5 L1199.0,515.6 L1200.0,521.7 L1201.0,525.9 L1202.0,535.1 L1203.0,528.4 L1204.0,530.6 L1205.0,524.5 L1206.0,519.3 L1207.0,519.5 L1208.0,527.0 L1209.0,521.8 L1210.0,525.7 L1211.0,526.6 L1212.0,524.5 L1213.0,523.5 L1214.0,526.5 L1215.0,525.2 L1216.0,524.2 L1217.0,521.3 L1218.0,520.4 L1219.0,523.9 L1220.0,524.5 L1221.0,529.5 L1222.0,530.2 L1223.0,528.3 L1224.0,528.4 L1225.0,529.1 L1226.0,529.2 L1227.0,530.0 L1228.0,526.8 L1229.0,526.3 L1230.0,525.5 L1231.0,526.3 L1232.0,524.3 L1233.0,528.6 L1234.0,525.2 L1235.0,526.8 L1236.0,530.9 L1237.0,533.7 L1238.0,532.9 L1239.0,536.2 L1240.0,537.0 L1241.0,534.4 L1242.0,536.4 L1243.0,536.0 L1244.0,530.3 L1245.0,534.0 L1246.0,530.2 L1247.0,530.5 L1248.0,533.9 L1249.0,530.1 L1250.0,529.0 L1251.0,533.8 L1252.0,532.8 L1253.0,538.6 L1254.0,535.1 L1255.0,537.9 L1256.0,533.7 L1257.0,535.7 L1258.0,534.3 L1259.0,534.9 L1260.0,535.0 L1261.0,536.8 L1262.0,537.5 L1263.0,535.9 L1264.0,538.2 L1265.0,533.8 L1266.0,533.2 L1267.0,538.6 L1268.0,536.9 L1269.0,537.9 L1270.0,533.7 L1271.0,535.3 L1272.0,539.8 L1273.0,535.8 L1274.0,541.0 L1275.0,542.6 L1276.0,542.4 L1277.0,538.5 L1278.0,543.0 L1279.0,543.9 L1280.0,536.9 L1281.0,538.7 L1282.0,535.6 L1283.0,541.4 L1284.0,536.0 L1285.0,540.7 L1286.0,540.2 L1287.0,539.6 L1288.0,540.0 L1289.0,538.5 L1290.0,532.5 L1291.0,536.5 L1292.0,532.7 L1293.0,536.5 L1294.0,531.4 L1295.0,532.3 L1296.0,535.4 L1297.0,536.2 L1298.0,539.2 L1299.0,538.8 L1300.0,539.6 L1301.0,541.1 L1302.0,544.6 L1303.0,542.0 L1304.0,545.7 L1305.0,546.2 L1306.0,544.8 L1307.0,542.5 L1308.0,544.1 L1309.0,542.4 L1310.0,540.2 L1311.0,540.2 L1312.0,538.3 L1313.0,537.2 L1314.0,536.3 L1315.0,541.5 L1316.0,542.0 L1317.0,545.8 L1318.0,547.0 L1319.0,545.6 L1320.0,544.6 L1321.0,548.2 L1322.0,548.5 L1323.0,543.4 L1324.0,543.2 L1325.0,548.4 L1326.0,543.0 L1327.0,541.0 L1328.0,547.2 L1329.0,547.9 L1330.0,545.9 L1331.0,546.8 L1332.0,543.4 L1333.0,543.8 L1334.0,545.2 L1335.0,541.7 L1336.0,543.0 L1337.0,545.0 L1338.0,543.0 L1339.0,546.1 L1340.0,549.5 L1341.0,550.9 L1342.0,551.9 L1343.0,545.6 L1344.0,545.2 L1345.0,542.0 L1346.0,538.6 L1347.0,537.6 L1348.0,540.1 L1349.0,542.8 L1350.0,539.8 L1351.0,540.0 L1352.0,537.1 L1353.0,537.3 L1354.0,541.2 L1355.0,541.4 L1356.0,543.2 L1357.0,540.8 L1358.0,539.5 L1359.0,542.1 L1360.0,539.7 L1361.0,540.2 L1362.0,540.5 L1363.0,543.4 L1364.0,543.8 L1365.0,540.8 L1366.0,545.0 L1367.0,546.0 L1368.0,542.0 L1369.0,542.3 L1370.0,546.5 L1371.0,545.0 L1372.0,551.6 L1373.0,546.8 L1374.0,551.0 L1375.0,545.2 L1376.0,547.2 L1377.0,543.2 L1378.0,540.9 L1379.0,543.9 L1380.0,543.7 L1381.0,548.1 L1382.0,550.8 L1383.0,546.1 L1384.0,546.3 L1385.0,546.6 L1386.0,548.8 L1387.0,543.4 L1388.0,544.5 L1389.0,544.3 L1390.0,549.6 L1391.0,545.8 L1392.0,549.6 L1393.0,550.4 L1394.0,550.9 L1395.0,548.6 L1396.0,548.7 L1397.0,549.3 L1398.0,551.3 L1399.0,552.5 L1400.0,546.9 L1401.0,550.1 L1402.0,547.9 L1403.0,545.8 L1404.0,549.2 L1405.0,554.8 L1406.0,554.2 L1407.0,552.0 L1408.0,553.1 L1409.0,552.5 L1410.0,550.4 L1411.0,552.0 L1412.0,552.3 L1413.0,553.6 L1414.0,551.3 L1415.0,551.7 L1416.0,546.0 L1417.0,549.7 L1418.0,547.8 L1419.0,548.4 L1420.0,549.2 L1421.0,558.2 L1422.0,554.9 L1423.0,554.6 L1424.0,555.3 L1425.0,554.6 L1426.0,557.3 L1427.0,556.9 L1428.0,555.5 L1429.0,557.5 L1430.0,560.1 L1431.0,557.4 L1432.0,560.2 L1433.0,558.3 L1434.0,554.4 L1435.0,557.6 L1436.0,556.8 L1437.0,557.6 L1438.0,558.6 L1439.0,563.1 L1440.0,559.1 L1441.0,564.0 L1442.0,557.9 L1443.0,562.6 L1444.0,560.4 L1445.0,559.7 L1446.0,563.4 L1447.0,562.7 L1448.0,558.6 L1449.0,557.0 L1450.0,554.3 L1451.0,558.3 L1452.0,557.2 L1453.0,561.4 L1454.0,560.8 L1455.0,559.1 L1456.0,559.8 L1457.0,559.8 L1458.0,555.8 L1459.0,557.0 L1460.0,554.8 L1461.0,558.2 L1462.0,557.8 L1463.0,555.6 L1464.0,562.3 L1465.0,555.6 L1466.0,556.8 L1467.0,557.9 L1468.0,562.8 L1469.0,559.2 L1470.0,564.8 L1471.0,562.8 L1472.0,561.7 L1473.0,561.7 L1474.0,562.8 L1475.0,564.6 L1476.0,564.5 L1477.0,560.6 L1478.0,563.0 L1479.0,560.3 L1480.0,560.6 L1481.0,564.7 L1482.0,561.6 L1483.0,562.5 L1484.0,567.4 L1485.0,561.7 L1486.0,563.6 L1487.0,563.4 L1488.0,564.7 L1489.0,565.6 L1490.0,562.3 L1491.0,561.9 L1492.0,565.8 L1493.0,563.9 L1494.0,563.9 L1495.0,566.8 L1496.0,562.1 L1497.0,563.8 L1498.0,565.2 L1499.0,564.3 L1500.0,563.4 L1501.0,566.3 L1502.0,567.8 L1503.0,570.3 L1504.0,572.3 L1505.0,568.7 L1506.0,568.9 L1507.0,570.3 L1508.0,573.2 L1509.0,572.7 L1510.0,568.7 L1511.0,574.6 L1512.0,573.9 L1513.0,572.6 L1514.0,574.6 L1515.0,570.7 L1516.0,569.7 L1517.0,567.2 L1518.0,566.9 L1519.0,565.3 L1520.0,569.9 L1521.0,571.4 L1522.0,575.5 L1523.0,571.6 L1524.0,568.2 L1525.0,568.0 L1526.0,566.9 L1527.0,563.5 L1528.0,566.9 L1529.0,569.4 L1530.0,565.7 L1531.0,566.4 L1532.0,565.9 L1533.0,570.7 L1534.0,565.3 L1535.0,567.5 L1536.0,572.8 L1537.0,573.3 L1538.0,571.8 L1539.0,572.2 L1540.0,571.3 L1541.0,575.0 L1542.0,572.1 L1543.0,578.2 L1544.0,576.8 L1545.0,576.6 L1546.0,579.2 L1547.0,575.7 L1548.0,575.8 L1549.0,571.5 L1550.0,573.1 L1551.0,574.3 L1552.0,576.5 L1553.0,578.5 L1554.0,574.3 L1555.0,573.1 L1556.0,577.4 L1557.0,578.0 L1558.0,572.7 L1559.0,574.0 L1560.0,575.6 L1561.0,576.5 L1562.0,570.6 L1563.0,573.6 L1564.0,576.4 L1565.0,579.4 L1566.0,584.5 L1567.0,584.7 L1568.0,580.4 L1569.0,578.3 L1570.0,576.7 L1571.0,576.9 L1572.0,574.9 L1573.0,575.5 L1574.0,576.3 L1575.0,580.0 L1576.0,576.6 L1577.0,582.1 L1578.0,576.1 L1579.0,574.9 L1580.0,575.2 L1581.0,578.6 L1582.0,573.1 L1583.0,574.1 L1584.0,578.7 L1585.0,574.5 L1586.0,578.0 L1587.0,576.4 L1588.0,581.5 L1589.0,579.6 L1590.0,584.0 L1591.0,580.9 L1592.0,577.0 L1593.0,577.5 L1594.0,577.0 L1595.0,578.2 L1596.0,581.8 L1597.0,575.6 L1598.0,576.6 L1599.0,579.2 L1600.0,576.5 L1601.0,576.0 L1602.0,576.6 L1603.0,574.9 L1604.0,579.8 L1605.0,579.9 L1606.0,581.2 L1607.0,582.0 L1608.0,583.8 L1609.0,581.4 L1610.0,587.3 L1611.0,585.5 L1612.0,586.3 L1613.0,589.1 L1614.0,586.9 L1615.0,588.2 L1616.0,585.2 L1617.0,583.2" stroke="#8bbd4d" stroke-width="7.0"/></g><g font-family="'Liberation Sans', Arial, sans-serif" font-size="55.5" fill="#000" text-anchor="end"><text transform="translate(229 1167.40) scale(1 1.025)">0</text><text transform="translate(229 1057.30) scale(1 1.025)">1000</text><text transform="translate(229 947.20) scale(1 1.025)">2000</text><text transform="translate(229 837.10) scale(1 1.025)">3000</text><text transform="translate(229 727.00) scale(1 1.025)">4000</text><text transform="translate(229 616.90) scale(1 1.025)">5000</text><text transform="translate(229 506.80) scale(1 1.025)">6000</text><text transform="translate(229 396.70) scale(1 1.025)">7000</text><text transform="translate(229 286.60) scale(1 1.025)">8000</text><text transform="translate(229 176.50) scale(1 1.025)">9000</text><text transform="translate(229 66.40) scale(1 1.025)">10,000</text></g><g font-family="'Liberation Sans', Arial, sans-serif" font-size="56" fill="#000" text-anchor="middle"><text transform="translate(277.00 1233) scale(1 1.035)">10</text><text transform="translate(444.56 1233) scale(1 1.035)">15</text><text transform="translate(612.12 1233) scale(1 1.035)">20</text><text transform="translate(779.69 1233) scale(1 1.035)">25</text><text transform="translate(947.25 1233) scale(1 1.035)">30</text><text transform="translate(1114.81 1233) scale(1 1.035)">35</text><text transform="translate(1282.38 1233) scale(1 1.035)">40</text><text transform="translate(1449.94 1233) scale(1 1.035)">45</text><text transform="translate(1617.50 1233) scale(1 1.035)">50</text></g><text font-family="'Liberation Sans', Arial, sans-serif" font-size="55.3" font-weight="bold" text-anchor="middle" transform="translate(947.2 1306) scale(1 1.04)">2θ (degree)</text><text font-family="'Liberation Sans', Arial, sans-serif" font-size="55.5" font-weight="bold" text-anchor="middle" transform="translate(68 656.2) rotate(-90) scale(1 1.04)">Intensity (a.u.)</text><line x1="1197" y1="88.3" x2="1257" y2="88.3" stroke="#ff6a00" stroke-width="6.5" stroke-linecap="round"/><text font-family="'Liberation Sans', Arial, sans-serif" font-size="49.5" x="1263" y="103.3">PLA</text><line x1="1197" y1="158.1" x2="1257" y2="158.1" stroke="#8560a8" stroke-width="6.5" stroke-linecap="round"/><text font-family="'Liberation Sans', Arial, sans-serif" font-size="49.5" x="1263" y="173.1">GnP</text><line x1="1197" y1="228.0" x2="1257" y2="228.0" stroke="#000000" stroke-width="6.5" stroke-linecap="round"/><text font-family="'Liberation Sans', Arial, sans-serif" font-size="49.5" x="1263" y="243.0">PLA + GnP R0</text><line x1="1197" y1="297.8" x2="1257" y2="297.8" stroke="#045e98" stroke-width="6.5" stroke-linecap="round"/><text font-family="'Liberation Sans', Arial, sans-serif" font-size="49.5" x="1263" y="312.8">PLA + GnP R1</text><line x1="1197" y1="367.7" x2="1257" y2="367.7" stroke="#df0000" stroke-width="6.5" stroke-linecap="round"/><text font-family="'Liberation Sans', Arial, sans-serif" font-size="49.5" x="1263" y="382.7">PLA + GnP R3</text><line x1="1197" y1="437.6" x2="1257" y2="437.6" stroke="#8bbd4d" stroke-width="6.5" stroke-linecap="round"/><text font-family="'Liberation Sans', Arial, sans-serif" font-size="49.5" x="1263" y="452.6">PLA + GnP R5</text></g></svg>
</body></html>
